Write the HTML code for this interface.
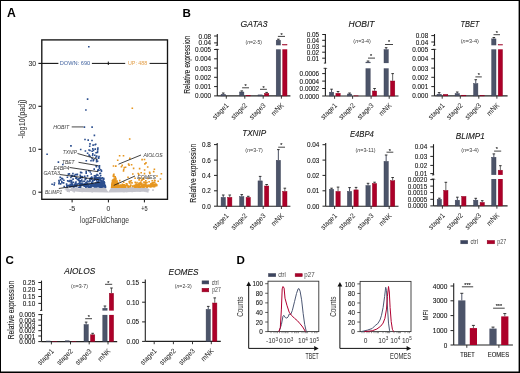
<!DOCTYPE html>
<html><head><meta charset="utf-8"><style>
html,body{margin:0;padding:0;background:#fff;}
body{width:520px;height:373px;overflow:hidden;position:relative;font-family:"Liberation Sans", sans-serif;}
svg{display:block;position:absolute;left:0;top:0;will-change:transform;}
.frame{position:absolute;left:0;top:0;width:518px;height:371px;border:1px solid #000;}
</style></head><body>
<svg width="520" height="373" viewBox="0 0 520 373" font-family='"Liberation Sans", sans-serif'>
<rect x="0" y="0" width="520" height="373" fill="#fff"/>
<text x="7.0" y="16.7" font-size="12.2" text-anchor="start" fill="#000" font-weight="bold">A</text>
<text x="182.6" y="17.0" font-size="11.6" text-anchor="start" fill="#000" font-weight="bold">B</text>
<text x="5.4" y="264.2" font-size="11.6" text-anchor="start" fill="#000" font-weight="bold">C</text>
<text x="236.4" y="264.2" font-size="11.6" text-anchor="start" fill="#000" font-weight="bold">D</text>
<polygon points="64,189.6 80,188.6 95,187.8 105.2,187.4 108.3,192.0 111.4,187.3 125,187.2 140,187.4 148,188.2 150,190 147,191.6 125,192.3 108,192.4 80,192.0 66,190.6" fill="#c3c3cb"/>
<path d="M102.3 189.0h1.6v1.6h-1.6zM141.0 188.6h1.6v1.6h-1.6zM80.3 188.8h1.6v1.6h-1.6zM116.9 190.0h1.6v1.6h-1.6zM72.9 187.9h1.6v1.6h-1.6zM72.6 190.0h1.6v1.6h-1.6zM122.1 186.9h1.6v1.6h-1.6zM145.7 190.7h1.6v1.6h-1.6zM118.8 189.2h1.6v1.6h-1.6zM78.1 186.8h1.6v1.6h-1.6zM80.8 187.7h1.6v1.6h-1.6zM67.7 188.6h1.6v1.6h-1.6zM101.3 190.2h1.6v1.6h-1.6zM102.7 187.8h1.6v1.6h-1.6zM147.0 190.8h1.6v1.6h-1.6zM134.1 189.6h1.6v1.6h-1.6zM91.1 187.6h1.6v1.6h-1.6zM88.9 187.0h1.6v1.6h-1.6zM128.0 188.3h1.6v1.6h-1.6zM134.6 188.3h1.6v1.6h-1.6zM143.8 190.2h1.6v1.6h-1.6zM65.2 187.6h1.6v1.6h-1.6zM139.8 188.6h1.6v1.6h-1.6zM145.6 188.3h1.6v1.6h-1.6zM71.2 189.3h1.6v1.6h-1.6zM129.0 187.8h1.6v1.6h-1.6zM72.3 188.1h1.6v1.6h-1.6zM144.3 189.8h1.6v1.6h-1.6zM74.9 187.7h1.6v1.6h-1.6zM73.5 186.9h1.6v1.6h-1.6zM130.6 187.4h1.6v1.6h-1.6zM111.1 188.5h1.6v1.6h-1.6zM80.8 189.7h1.6v1.6h-1.6zM75.9 189.3h1.6v1.6h-1.6zM74.8 188.4h1.6v1.6h-1.6zM82.7 187.8h1.6v1.6h-1.6zM144.8 190.0h1.6v1.6h-1.6zM90.1 190.3h1.6v1.6h-1.6zM82.5 188.3h1.6v1.6h-1.6zM135.3 189.3h1.6v1.6h-1.6zM73.4 190.8h1.6v1.6h-1.6zM82.7 187.8h1.6v1.6h-1.6zM128.6 188.0h1.6v1.6h-1.6zM89.5 187.0h1.6v1.6h-1.6zM72.6 189.1h1.6v1.6h-1.6zM85.1 189.2h1.6v1.6h-1.6zM95.7 188.6h1.6v1.6h-1.6zM143.8 188.7h1.6v1.6h-1.6zM112.3 190.3h1.6v1.6h-1.6zM80.2 187.3h1.6v1.6h-1.6zM139.7 190.1h1.6v1.6h-1.6zM85.7 187.5h1.6v1.6h-1.6zM125.8 190.6h1.6v1.6h-1.6zM81.3 190.6h1.6v1.6h-1.6zM137.5 189.2h1.6v1.6h-1.6zM99.8 187.1h1.6v1.6h-1.6zM68.4 190.6h1.6v1.6h-1.6zM84.7 189.6h1.6v1.6h-1.6zM86.3 190.1h1.6v1.6h-1.6zM114.1 187.9h1.6v1.6h-1.6zM79.6 189.7h1.6v1.6h-1.6zM70.8 187.6h1.6v1.6h-1.6zM111.1 190.2h1.6v1.6h-1.6zM115.6 187.8h1.6v1.6h-1.6zM140.4 187.5h1.6v1.6h-1.6zM66.6 187.8h1.6v1.6h-1.6zM101.7 186.9h1.6v1.6h-1.6zM79.7 188.2h1.6v1.6h-1.6zM112.1 187.2h1.6v1.6h-1.6zM94.9 190.4h1.6v1.6h-1.6zM145.6 189.4h1.6v1.6h-1.6zM121.9 189.1h1.6v1.6h-1.6zM76.7 186.8h1.6v1.6h-1.6zM66.7 190.4h1.6v1.6h-1.6zM122.7 190.6h1.6v1.6h-1.6zM66.9 189.3h1.6v1.6h-1.6zM104.7 189.7h1.6v1.6h-1.6zM91.4 190.8h1.6v1.6h-1.6zM71.4 188.9h1.6v1.6h-1.6zM125.6 190.4h1.6v1.6h-1.6zM125.6 189.6h1.6v1.6h-1.6zM130.2 190.5h1.6v1.6h-1.6zM94.1 189.5h1.6v1.6h-1.6zM139.1 190.3h1.6v1.6h-1.6zM99.4 189.9h1.6v1.6h-1.6zM136.0 189.0h1.6v1.6h-1.6zM116.4 188.3h1.6v1.6h-1.6zM113.0 189.2h1.6v1.6h-1.6zM71.8 189.3h1.6v1.6h-1.6zM146.7 190.3h1.6v1.6h-1.6zM124.9 188.3h1.6v1.6h-1.6zM125.5 189.1h1.6v1.6h-1.6zM101.3 190.1h1.6v1.6h-1.6zM72.1 189.8h1.6v1.6h-1.6zM67.6 189.2h1.6v1.6h-1.6zM104.6 187.6h1.6v1.6h-1.6zM122.5 188.7h1.6v1.6h-1.6zM115.6 190.5h1.6v1.6h-1.6zM86.2 186.7h1.6v1.6h-1.6zM89.9 189.5h1.6v1.6h-1.6zM81.8 187.4h1.6v1.6h-1.6zM139.5 189.4h1.6v1.6h-1.6zM101.4 190.4h1.6v1.6h-1.6zM92.0 189.4h1.6v1.6h-1.6zM81.5 188.5h1.6v1.6h-1.6zM131.3 190.4h1.6v1.6h-1.6zM137.4 188.3h1.6v1.6h-1.6zM113.0 188.0h1.6v1.6h-1.6zM76.4 188.7h1.6v1.6h-1.6zM133.8 190.2h1.6v1.6h-1.6zM123.5 190.6h1.6v1.6h-1.6zM87.9 187.4h1.6v1.6h-1.6zM102.2 187.8h1.6v1.6h-1.6zM82.8 188.4h1.6v1.6h-1.6zM116.5 188.7h1.6v1.6h-1.6zM91.1 190.1h1.6v1.6h-1.6zM145.7 188.6h1.6v1.6h-1.6zM71.3 186.8h1.6v1.6h-1.6zM136.8 186.9h1.6v1.6h-1.6zM123.3 189.0h1.6v1.6h-1.6zM90.5 189.9h1.6v1.6h-1.6zM66.8 187.3h1.6v1.6h-1.6zM102.5 186.8h1.6v1.6h-1.6zM133.2 187.7h1.6v1.6h-1.6zM76.8 186.9h1.6v1.6h-1.6zM116.8 188.5h1.6v1.6h-1.6zM116.9 189.4h1.6v1.6h-1.6zM131.4 190.6h1.6v1.6h-1.6zM121.3 187.5h1.6v1.6h-1.6zM104.2 187.4h1.6v1.6h-1.6zM66.1 188.6h1.6v1.6h-1.6zM123.8 187.4h1.6v1.6h-1.6zM87.5 188.1h1.6v1.6h-1.6zM122.4 188.8h1.6v1.6h-1.6zM115.6 189.8h1.6v1.6h-1.6zM97.5 189.9h1.6v1.6h-1.6zM139.5 187.1h1.6v1.6h-1.6zM141.7 189.7h1.6v1.6h-1.6zM75.9 188.6h1.6v1.6h-1.6zM116.5 190.4h1.6v1.6h-1.6zM96.1 189.0h1.6v1.6h-1.6zM137.3 190.0h1.6v1.6h-1.6zM142.6 188.6h1.6v1.6h-1.6zM118.6 187.5h1.6v1.6h-1.6zM124.4 190.1h1.6v1.6h-1.6zM117.8 189.6h1.6v1.6h-1.6zM82.7 190.4h1.6v1.6h-1.6zM145.6 190.7h1.6v1.6h-1.6zM91.5 190.4h1.6v1.6h-1.6zM135.4 188.1h1.6v1.6h-1.6zM72.0 188.5h1.6v1.6h-1.6zM110.3 189.8h1.6v1.6h-1.6zM131.5 187.0h1.6v1.6h-1.6zM130.8 187.4h1.6v1.6h-1.6zM152.2 189.3h1.6v1.6h-1.6z" fill="#c3c3cb"/>
<path d="M98.2 185.7h1.6v1.6h-1.6zM81.1 183.9h1.6v1.6h-1.6zM88.4 183.5h1.6v1.6h-1.6zM85.0 184.2h1.6v1.6h-1.6zM74.7 183.4h1.6v1.6h-1.6zM67.7 184.8h1.6v1.6h-1.6zM91.7 184.2h1.6v1.6h-1.6zM85.8 184.4h1.6v1.6h-1.6zM76.4 183.3h1.6v1.6h-1.6zM97.5 184.4h1.6v1.6h-1.6zM99.1 184.9h1.6v1.6h-1.6zM68.8 186.0h1.6v1.6h-1.6zM74.7 185.3h1.6v1.6h-1.6zM100.0 183.0h1.6v1.6h-1.6zM84.7 185.6h1.6v1.6h-1.6zM94.7 184.5h1.6v1.6h-1.6zM99.2 183.5h1.6v1.6h-1.6zM84.7 184.0h1.6v1.6h-1.6zM86.3 185.1h1.6v1.6h-1.6zM94.6 182.2h1.6v1.6h-1.6zM90.4 186.0h1.6v1.6h-1.6zM104.0 185.4h1.6v1.6h-1.6zM79.9 186.0h1.6v1.6h-1.6zM90.7 183.5h1.6v1.6h-1.6zM90.3 185.8h1.6v1.6h-1.6zM70.8 183.3h1.6v1.6h-1.6zM72.0 183.9h1.6v1.6h-1.6zM84.7 184.7h1.6v1.6h-1.6zM101.7 184.2h1.6v1.6h-1.6zM101.9 185.6h1.6v1.6h-1.6zM78.9 183.6h1.6v1.6h-1.6zM93.2 184.6h1.6v1.6h-1.6zM75.7 183.7h1.6v1.6h-1.6zM75.7 183.8h1.6v1.6h-1.6zM89.4 184.7h1.6v1.6h-1.6zM104.2 184.6h1.6v1.6h-1.6zM100.0 182.1h1.6v1.6h-1.6zM91.3 184.0h1.6v1.6h-1.6zM68.4 184.4h1.6v1.6h-1.6zM79.3 186.4h1.6v1.6h-1.6zM99.2 184.5h1.6v1.6h-1.6zM72.8 186.1h1.6v1.6h-1.6zM80.8 184.5h1.6v1.6h-1.6zM103.7 182.0h1.6v1.6h-1.6zM91.4 184.3h1.6v1.6h-1.6zM79.3 184.8h1.6v1.6h-1.6zM94.9 185.1h1.6v1.6h-1.6zM99.2 183.1h1.6v1.6h-1.6zM81.2 183.1h1.6v1.6h-1.6zM73.8 184.8h1.6v1.6h-1.6zM85.1 184.5h1.6v1.6h-1.6zM90.3 184.5h1.6v1.6h-1.6zM92.9 183.5h1.6v1.6h-1.6zM87.0 184.7h1.6v1.6h-1.6zM78.0 183.1h1.6v1.6h-1.6zM69.2 184.4h1.6v1.6h-1.6zM80.9 184.3h1.6v1.6h-1.6zM86.4 185.6h1.6v1.6h-1.6zM70.7 183.6h1.6v1.6h-1.6zM79.5 186.0h1.6v1.6h-1.6zM102.4 183.2h1.6v1.6h-1.6zM95.2 184.2h1.6v1.6h-1.6zM74.0 183.6h1.6v1.6h-1.6zM93.5 185.4h1.6v1.6h-1.6zM79.3 185.0h1.6v1.6h-1.6zM98.4 183.9h1.6v1.6h-1.6zM98.3 184.7h1.6v1.6h-1.6zM94.7 186.0h1.6v1.6h-1.6zM87.5 185.1h1.6v1.6h-1.6zM98.8 184.9h1.6v1.6h-1.6zM100.3 185.7h1.6v1.6h-1.6zM90.5 185.9h1.6v1.6h-1.6zM84.3 182.9h1.6v1.6h-1.6zM71.8 183.6h1.6v1.6h-1.6zM86.6 184.9h1.6v1.6h-1.6zM97.3 183.8h1.6v1.6h-1.6zM91.2 184.0h1.6v1.6h-1.6zM69.5 185.5h1.6v1.6h-1.6zM66.3 184.7h1.6v1.6h-1.6zM102.5 186.0h1.6v1.6h-1.6zM103.5 183.3h1.6v1.6h-1.6zM73.3 185.6h1.6v1.6h-1.6zM80.3 183.6h1.6v1.6h-1.6zM71.9 184.2h1.6v1.6h-1.6zM84.2 183.7h1.6v1.6h-1.6zM91.9 183.0h1.6v1.6h-1.6zM87.5 183.8h1.6v1.6h-1.6zM82.7 184.8h1.6v1.6h-1.6zM81.3 182.8h1.6v1.6h-1.6zM96.5 184.4h1.6v1.6h-1.6zM101.4 184.9h1.6v1.6h-1.6zM69.4 185.8h1.6v1.6h-1.6zM69.6 183.6h1.6v1.6h-1.6zM89.1 183.5h1.6v1.6h-1.6zM100.5 185.0h1.6v1.6h-1.6zM85.1 184.2h1.6v1.6h-1.6zM71.0 185.3h1.6v1.6h-1.6zM92.4 185.4h1.6v1.6h-1.6zM65.9 185.2h1.6v1.6h-1.6zM97.3 182.1h1.6v1.6h-1.6zM80.5 184.2h1.6v1.6h-1.6zM83.8 185.4h1.6v1.6h-1.6zM99.3 183.9h1.6v1.6h-1.6zM104.0 185.0h1.6v1.6h-1.6zM74.9 184.4h1.6v1.6h-1.6zM100.6 182.6h1.6v1.6h-1.6zM100.8 184.9h1.6v1.6h-1.6zM93.7 183.4h1.6v1.6h-1.6zM75.6 183.2h1.6v1.6h-1.6zM94.8 184.3h1.6v1.6h-1.6zM63.4 185.8h1.6v1.6h-1.6zM96.6 184.0h1.6v1.6h-1.6zM87.6 183.7h1.6v1.6h-1.6zM76.0 185.2h1.6v1.6h-1.6zM88.6 186.0h1.6v1.6h-1.6zM101.5 184.4h1.6v1.6h-1.6zM87.4 185.9h1.6v1.6h-1.6zM74.7 184.9h1.6v1.6h-1.6zM83.4 183.3h1.6v1.6h-1.6zM89.9 186.4h1.6v1.6h-1.6zM70.9 183.9h1.6v1.6h-1.6zM104.4 184.7h1.6v1.6h-1.6zM99.8 184.6h1.6v1.6h-1.6zM81.4 184.1h1.6v1.6h-1.6zM68.5 184.7h1.6v1.6h-1.6zM98.5 183.2h1.6v1.6h-1.6zM101.6 182.1h1.6v1.6h-1.6zM103.0 185.2h1.6v1.6h-1.6zM96.8 182.3h1.6v1.6h-1.6zM99.3 182.0h1.6v1.6h-1.6zM75.4 184.5h1.6v1.6h-1.6zM79.7 182.9h1.6v1.6h-1.6zM103.4 182.5h1.6v1.6h-1.6zM92.9 183.9h1.6v1.6h-1.6zM103.9 185.5h1.6v1.6h-1.6zM90.8 183.3h1.6v1.6h-1.6zM78.1 186.4h1.6v1.6h-1.6zM94.6 184.7h1.6v1.6h-1.6zM92.0 185.2h1.6v1.6h-1.6zM88.8 186.3h1.6v1.6h-1.6zM80.3 184.2h1.6v1.6h-1.6zM86.3 183.7h1.6v1.6h-1.6zM97.5 182.0h1.6v1.6h-1.6zM100.5 184.3h1.6v1.6h-1.6zM91.8 184.1h1.6v1.6h-1.6zM94.0 186.2h1.6v1.6h-1.6zM91.4 183.9h1.6v1.6h-1.6zM95.4 186.1h1.6v1.6h-1.6zM75.8 185.0h1.6v1.6h-1.6zM69.7 185.6h1.6v1.6h-1.6zM93.6 186.1h1.6v1.6h-1.6zM99.6 182.5h1.6v1.6h-1.6zM96.8 183.1h1.6v1.6h-1.6zM102.3 182.7h1.6v1.6h-1.6zM66.3 186.5h1.6v1.6h-1.6zM87.9 186.2h1.6v1.6h-1.6zM85.1 186.3h1.6v1.6h-1.6zM71.8 184.8h1.6v1.6h-1.6zM95.6 182.4h1.6v1.6h-1.6zM78.3 182.9h1.6v1.6h-1.6zM92.1 182.7h1.6v1.6h-1.6zM85.8 183.0h1.6v1.6h-1.6zM96.8 186.0h1.6v1.6h-1.6zM75.3 185.7h1.6v1.6h-1.6zM74.7 183.8h1.6v1.6h-1.6zM75.2 184.4h1.6v1.6h-1.6zM69.8 184.3h1.6v1.6h-1.6zM99.6 182.0h1.6v1.6h-1.6zM88.0 186.3h1.6v1.6h-1.6zM99.1 182.8h1.6v1.6h-1.6zM95.1 184.6h1.6v1.6h-1.6zM102.2 185.0h1.6v1.6h-1.6zM97.2 181.8h1.6v1.6h-1.6zM96.2 177.1h1.6v1.6h-1.6zM104.7 186.4h1.6v1.6h-1.6zM99.1 179.1h1.6v1.6h-1.6zM98.3 176.6h1.6v1.6h-1.6zM99.5 185.5h1.6v1.6h-1.6zM100.1 180.5h1.6v1.6h-1.6zM98.0 180.4h1.6v1.6h-1.6zM102.5 182.1h1.6v1.6h-1.6zM99.6 177.8h1.6v1.6h-1.6zM101.5 182.1h1.6v1.6h-1.6zM104.3 185.5h1.6v1.6h-1.6zM102.5 185.6h1.6v1.6h-1.6zM100.6 185.0h1.6v1.6h-1.6zM98.9 178.8h1.6v1.6h-1.6zM102.5 178.6h1.6v1.6h-1.6zM96.7 182.5h1.6v1.6h-1.6zM96.5 181.4h1.6v1.6h-1.6zM99.5 186.4h1.6v1.6h-1.6zM100.5 179.6h1.6v1.6h-1.6zM100.3 177.4h1.6v1.6h-1.6zM96.1 185.7h1.6v1.6h-1.6zM94.4 182.4h1.6v1.6h-1.6zM98.8 183.0h1.6v1.6h-1.6zM97.0 178.5h1.6v1.6h-1.6zM95.0 176.9h1.6v1.6h-1.6zM100.2 181.8h1.6v1.6h-1.6zM102.6 185.0h1.6v1.6h-1.6zM95.8 184.4h1.6v1.6h-1.6zM94.6 184.3h1.6v1.6h-1.6zM100.8 182.0h1.6v1.6h-1.6zM97.0 181.3h1.6v1.6h-1.6zM95.1 178.2h1.6v1.6h-1.6zM96.0 184.9h1.6v1.6h-1.6zM95.9 179.9h1.6v1.6h-1.6zM103.0 178.6h1.6v1.6h-1.6zM94.8 183.3h1.6v1.6h-1.6zM98.1 185.2h1.6v1.6h-1.6zM104.5 186.4h1.6v1.6h-1.6zM99.4 179.0h1.6v1.6h-1.6zM104.7 185.8h1.6v1.6h-1.6zM99.0 179.2h1.6v1.6h-1.6zM94.6 185.0h1.6v1.6h-1.6zM103.6 185.8h1.6v1.6h-1.6zM98.4 184.5h1.6v1.6h-1.6zM98.7 186.2h1.6v1.6h-1.6zM94.6 175.6h1.6v1.6h-1.6zM102.3 179.4h1.6v1.6h-1.6zM96.6 184.9h1.6v1.6h-1.6zM100.0 185.0h1.6v1.6h-1.6zM99.1 176.5h1.6v1.6h-1.6zM98.1 184.1h1.6v1.6h-1.6zM94.6 183.4h1.6v1.6h-1.6zM101.1 186.3h1.6v1.6h-1.6zM97.8 179.9h1.6v1.6h-1.6zM103.4 181.2h1.6v1.6h-1.6zM103.6 182.8h1.6v1.6h-1.6zM98.4 177.8h1.6v1.6h-1.6zM95.2 178.6h1.6v1.6h-1.6zM92.0 181.0h1.6v1.6h-1.6zM85.7 177.7h1.6v1.6h-1.6zM78.0 179.5h1.6v1.6h-1.6zM80.2 171.8h1.6v1.6h-1.6zM97.4 181.6h1.6v1.6h-1.6zM83.4 183.9h1.6v1.6h-1.6zM99.9 169.0h1.6v1.6h-1.6zM81.9 183.4h1.6v1.6h-1.6zM102.4 181.5h1.6v1.6h-1.6zM96.3 177.2h1.6v1.6h-1.6zM83.1 180.6h1.6v1.6h-1.6zM101.6 180.6h1.6v1.6h-1.6zM84.4 178.7h1.6v1.6h-1.6zM93.0 183.6h1.6v1.6h-1.6zM59.4 176.6h1.6v1.6h-1.6zM99.7 172.4h1.6v1.6h-1.6zM81.2 181.0h1.6v1.6h-1.6zM94.1 177.9h1.6v1.6h-1.6zM72.3 178.3h1.6v1.6h-1.6zM84.5 177.4h1.6v1.6h-1.6zM86.7 182.8h1.6v1.6h-1.6zM97.1 174.5h1.6v1.6h-1.6zM88.7 183.9h1.6v1.6h-1.6zM101.5 177.1h1.6v1.6h-1.6zM63.1 179.5h1.6v1.6h-1.6zM103.0 178.0h1.6v1.6h-1.6zM93.5 176.7h1.6v1.6h-1.6zM95.3 174.8h1.6v1.6h-1.6zM94.4 177.5h1.6v1.6h-1.6zM66.9 180.1h1.6v1.6h-1.6zM81.0 179.3h1.6v1.6h-1.6zM70.3 181.5h1.6v1.6h-1.6zM53.7 182.2h1.6v1.6h-1.6zM86.7 175.1h1.6v1.6h-1.6zM70.5 180.4h1.6v1.6h-1.6zM90.4 173.2h1.6v1.6h-1.6zM75.9 173.8h1.6v1.6h-1.6zM74.9 177.2h1.6v1.6h-1.6zM75.4 177.5h1.6v1.6h-1.6zM86.0 181.6h1.6v1.6h-1.6zM102.2 183.0h1.6v1.6h-1.6zM91.5 177.2h1.6v1.6h-1.6zM69.2 179.8h1.6v1.6h-1.6zM88.8 179.3h1.6v1.6h-1.6zM70.5 174.7h1.6v1.6h-1.6zM83.9 175.4h1.6v1.6h-1.6zM102.8 177.5h1.6v1.6h-1.6zM100.4 184.0h1.6v1.6h-1.6zM71.2 182.6h1.6v1.6h-1.6zM90.3 178.1h1.6v1.6h-1.6zM59.8 183.1h1.6v1.6h-1.6zM93.5 179.3h1.6v1.6h-1.6zM100.3 177.4h1.6v1.6h-1.6zM70.8 179.7h1.6v1.6h-1.6zM85.1 182.1h1.6v1.6h-1.6zM61.1 181.8h1.6v1.6h-1.6zM93.7 183.9h1.6v1.6h-1.6zM86.6 180.2h1.6v1.6h-1.6zM83.7 180.5h1.6v1.6h-1.6zM68.6 173.1h1.6v1.6h-1.6zM77.6 178.9h1.6v1.6h-1.6zM61.8 178.1h1.6v1.6h-1.6zM67.6 173.3h1.6v1.6h-1.6zM79.0 181.9h1.6v1.6h-1.6zM79.7 183.2h1.6v1.6h-1.6zM90.9 176.3h1.6v1.6h-1.6zM53.4 184.1h1.6v1.6h-1.6zM79.4 174.5h1.6v1.6h-1.6zM73.4 174.9h1.6v1.6h-1.6zM80.5 183.9h1.6v1.6h-1.6zM93.8 178.3h1.6v1.6h-1.6zM96.2 173.7h1.6v1.6h-1.6zM68.4 180.6h1.6v1.6h-1.6zM62.8 182.1h1.6v1.6h-1.6zM90.8 181.5h1.6v1.6h-1.6zM76.5 178.7h1.6v1.6h-1.6zM58.4 181.2h1.6v1.6h-1.6zM98.2 169.4h1.6v1.6h-1.6zM98.7 167.5h1.6v1.6h-1.6zM96.0 177.5h1.6v1.6h-1.6zM99.0 172.7h1.6v1.6h-1.6zM58.1 182.8h1.6v1.6h-1.6zM88.2 181.0h1.6v1.6h-1.6zM79.8 175.8h1.6v1.6h-1.6zM100.6 169.7h1.6v1.6h-1.6zM89.4 177.8h1.6v1.6h-1.6zM81.3 176.4h1.6v1.6h-1.6zM84.9 177.8h1.6v1.6h-1.6zM74.8 182.3h1.6v1.6h-1.6zM79.4 180.1h1.6v1.6h-1.6zM97.0 169.8h1.6v1.6h-1.6zM72.6 181.4h1.6v1.6h-1.6zM85.4 172.3h1.6v1.6h-1.6zM75.3 183.4h1.6v1.6h-1.6zM81.2 176.9h1.6v1.6h-1.6zM99.9 174.7h1.6v1.6h-1.6zM100.7 170.3h1.6v1.6h-1.6zM97.4 169.1h1.6v1.6h-1.6zM102.5 178.1h1.6v1.6h-1.6zM103.1 181.0h1.6v1.6h-1.6zM80.9 172.0h1.6v1.6h-1.6zM80.9 175.7h1.6v1.6h-1.6zM79.5 184.0h1.6v1.6h-1.6zM78.6 180.6h1.6v1.6h-1.6zM99.7 182.0h1.6v1.6h-1.6zM101.7 182.2h1.6v1.6h-1.6zM61.0 177.5h1.6v1.6h-1.6zM98.8 177.3h1.6v1.6h-1.6zM76.6 173.8h1.6v1.6h-1.6zM85.4 170.7h1.6v1.6h-1.6zM93.6 175.0h1.6v1.6h-1.6zM89.5 171.2h1.6v1.6h-1.6zM77.8 179.2h1.6v1.6h-1.6zM96.2 183.1h1.6v1.6h-1.6zM88.0 170.0h1.6v1.6h-1.6zM75.2 181.2h1.6v1.6h-1.6zM70.8 181.3h1.6v1.6h-1.6zM74.5 173.8h1.6v1.6h-1.6zM73.7 175.4h1.6v1.6h-1.6zM79.8 171.6h1.6v1.6h-1.6zM61.0 180.7h1.6v1.6h-1.6zM81.7 175.9h1.6v1.6h-1.6zM93.4 168.3h1.6v1.6h-1.6zM70.1 176.7h1.6v1.6h-1.6zM90.8 178.5h1.6v1.6h-1.6zM65.8 183.3h1.6v1.6h-1.6zM70.8 175.6h1.6v1.6h-1.6zM71.5 175.1h1.6v1.6h-1.6zM59.8 179.1h1.6v1.6h-1.6zM79.4 177.5h1.6v1.6h-1.6zM91.5 182.8h1.6v1.6h-1.6zM79.4 180.9h1.6v1.6h-1.6zM95.8 176.8h1.6v1.6h-1.6zM78.0 182.8h1.6v1.6h-1.6zM72.1 172.8h1.6v1.6h-1.6zM66.6 176.5h1.6v1.6h-1.6zM101.4 182.3h1.6v1.6h-1.6zM76.5 173.5h1.6v1.6h-1.6zM89.5 180.2h1.6v1.6h-1.6zM78.1 177.9h1.6v1.6h-1.6zM75.9 177.1h1.6v1.6h-1.6zM91.8 179.5h1.6v1.6h-1.6zM97.7 177.0h1.6v1.6h-1.6zM90.0 177.3h1.6v1.6h-1.6zM97.1 147.2h1.6v1.6h-1.6zM95.1 156.5h1.6v1.6h-1.6zM95.8 160.8h1.6v1.6h-1.6zM94.5 148.2h1.6v1.6h-1.6zM96.7 151.7h1.6v1.6h-1.6zM91.3 157.9h1.6v1.6h-1.6zM98.5 166.8h1.6v1.6h-1.6zM89.2 155.5h1.6v1.6h-1.6zM95.7 166.0h1.6v1.6h-1.6zM91.8 154.7h1.6v1.6h-1.6zM91.3 150.5h1.6v1.6h-1.6zM89.2 149.7h1.6v1.6h-1.6zM97.9 157.3h1.6v1.6h-1.6zM92.0 153.1h1.6v1.6h-1.6zM94.3 143.9h1.6v1.6h-1.6zM92.3 144.3h1.6v1.6h-1.6zM95.3 165.2h1.6v1.6h-1.6zM92.4 159.9h1.6v1.6h-1.6zM92.0 148.1h1.6v1.6h-1.6zM97.0 148.6h1.6v1.6h-1.6zM88.9 145.4h1.6v1.6h-1.6zM98.7 165.1h1.6v1.6h-1.6zM88.3 154.3h1.6v1.6h-1.6zM89.2 143.1h1.6v1.6h-1.6zM88.2 149.2h1.6v1.6h-1.6zM95.3 152.0h1.6v1.6h-1.6zM98.2 155.7h1.6v1.6h-1.6zM95.8 159.5h1.6v1.6h-1.6zM98.3 165.3h1.6v1.6h-1.6zM97.7 157.1h1.6v1.6h-1.6zM88.0 46.0h1.6v1.6h-1.6zM86.8 98.3h1.6v1.6h-1.6zM85.1 109.2h1.6v1.6h-1.6zM83.6 126.3h1.6v1.6h-1.6zM91.3 126.3h1.6v1.6h-1.6zM93.6 134.6h1.6v1.6h-1.6zM84.2 138.7h1.6v1.6h-1.6zM87.4 139.3h1.6v1.6h-1.6zM91.2 139.7h1.6v1.6h-1.6zM94.9 143.4h1.6v1.6h-1.6zM70.1 145.0h1.6v1.6h-1.6zM79.9 148.7h1.6v1.6h-1.6zM84.6 150.2h1.6v1.6h-1.6zM86.8 152.5h1.6v1.6h-1.6zM92.7 149.7h1.6v1.6h-1.6zM94.4 148.3h1.6v1.6h-1.6zM96.8 150.6h1.6v1.6h-1.6zM95.9 155.3h1.6v1.6h-1.6zM94.0 154.4h1.6v1.6h-1.6zM85.5 160.0h1.6v1.6h-1.6zM90.2 160.0h1.6v1.6h-1.6zM93.0 159.0h1.6v1.6h-1.6zM95.9 159.0h1.6v1.6h-1.6zM96.8 160.4h1.6v1.6h-1.6zM62.0 163.7h1.6v1.6h-1.6zM46.3 153.5h1.6v1.6h-1.6zM51.3 183.4h1.6v1.6h-1.6zM57.6 161.3h1.6v1.6h-1.6zM58.1 179.7h1.6v1.6h-1.6zM70.2 145.1h1.6v1.6h-1.6z" fill="#2b4e8e"/>
<path d="M117.1 182.3h1.6v1.6h-1.6zM114.6 184.7h1.6v1.6h-1.6zM113.3 182.9h1.6v1.6h-1.6zM112.5 182.1h1.6v1.6h-1.6zM114.7 181.5h1.6v1.6h-1.6zM111.8 183.8h1.6v1.6h-1.6zM112.8 181.3h1.6v1.6h-1.6zM113.7 178.5h1.6v1.6h-1.6zM111.1 184.1h1.6v1.6h-1.6zM116.6 181.9h1.6v1.6h-1.6zM114.3 185.7h1.6v1.6h-1.6zM115.4 186.2h1.6v1.6h-1.6zM112.6 186.4h1.6v1.6h-1.6zM112.8 181.6h1.6v1.6h-1.6zM112.4 181.2h1.6v1.6h-1.6zM117.2 186.4h1.6v1.6h-1.6zM111.3 184.1h1.6v1.6h-1.6zM113.5 182.9h1.6v1.6h-1.6zM114.2 185.9h1.6v1.6h-1.6zM110.8 186.5h1.6v1.6h-1.6zM113.1 185.0h1.6v1.6h-1.6zM113.6 180.8h1.6v1.6h-1.6zM112.1 180.1h1.6v1.6h-1.6zM112.0 183.8h1.6v1.6h-1.6zM116.1 181.3h1.6v1.6h-1.6zM116.3 180.3h1.6v1.6h-1.6zM112.8 185.1h1.6v1.6h-1.6zM114.7 185.2h1.6v1.6h-1.6zM112.5 180.5h1.6v1.6h-1.6zM113.2 182.3h1.6v1.6h-1.6zM111.9 184.4h1.6v1.6h-1.6zM114.7 185.5h1.6v1.6h-1.6zM114.5 177.2h1.6v1.6h-1.6zM112.5 175.5h1.6v1.6h-1.6zM113.1 185.4h1.6v1.6h-1.6zM112.7 174.2h1.6v1.6h-1.6zM115.7 185.4h1.6v1.6h-1.6zM115.4 181.9h1.6v1.6h-1.6zM115.9 186.4h1.6v1.6h-1.6zM113.1 175.9h1.6v1.6h-1.6zM112.8 183.9h1.6v1.6h-1.6zM112.0 181.1h1.6v1.6h-1.6zM112.4 179.2h1.6v1.6h-1.6zM114.3 181.6h1.6v1.6h-1.6zM114.0 185.0h1.6v1.6h-1.6zM112.6 175.3h1.6v1.6h-1.6zM112.7 185.0h1.6v1.6h-1.6zM111.1 183.6h1.6v1.6h-1.6zM111.7 180.7h1.6v1.6h-1.6zM114.5 184.1h1.6v1.6h-1.6zM111.4 185.9h1.6v1.6h-1.6zM111.6 180.1h1.6v1.6h-1.6zM114.3 176.0h1.6v1.6h-1.6zM114.1 186.4h1.6v1.6h-1.6zM114.4 181.3h1.6v1.6h-1.6zM113.6 186.2h1.6v1.6h-1.6zM113.3 183.1h1.6v1.6h-1.6zM112.7 186.1h1.6v1.6h-1.6zM114.8 177.3h1.6v1.6h-1.6zM112.8 175.2h1.6v1.6h-1.6zM112.1 184.1h1.6v1.6h-1.6zM113.4 178.2h1.6v1.6h-1.6zM112.4 182.3h1.6v1.6h-1.6zM111.6 184.1h1.6v1.6h-1.6zM112.8 179.5h1.6v1.6h-1.6zM112.0 184.7h1.6v1.6h-1.6zM114.4 176.2h1.6v1.6h-1.6zM113.3 179.2h1.6v1.6h-1.6zM112.6 185.9h1.6v1.6h-1.6zM114.7 177.5h1.6v1.6h-1.6zM111.0 185.7h1.6v1.6h-1.6zM113.1 173.5h1.6v1.6h-1.6zM113.7 179.9h1.6v1.6h-1.6zM114.7 184.6h1.6v1.6h-1.6zM116.5 183.5h1.6v1.6h-1.6zM112.5 186.2h1.6v1.6h-1.6zM112.8 182.1h1.6v1.6h-1.6zM117.0 182.7h1.6v1.6h-1.6zM115.9 185.4h1.6v1.6h-1.6zM116.9 184.2h1.6v1.6h-1.6zM114.0 184.3h1.6v1.6h-1.6zM114.9 179.0h1.6v1.6h-1.6zM112.2 184.6h1.6v1.6h-1.6zM112.4 182.2h1.6v1.6h-1.6zM111.4 183.2h1.6v1.6h-1.6zM111.9 186.5h1.6v1.6h-1.6zM111.4 186.0h1.6v1.6h-1.6zM114.4 184.9h1.6v1.6h-1.6zM113.3 180.0h1.6v1.6h-1.6zM113.4 183.7h1.6v1.6h-1.6zM112.6 181.3h1.6v1.6h-1.6zM117.4 186.5h1.6v1.6h-1.6zM113.4 185.6h1.6v1.6h-1.6zM112.7 178.7h1.6v1.6h-1.6zM113.8 182.0h1.6v1.6h-1.6zM115.8 183.7h1.6v1.6h-1.6zM113.3 182.1h1.6v1.6h-1.6zM117.7 186.5h1.6v1.6h-1.6zM111.2 186.0h1.6v1.6h-1.6zM111.8 179.8h1.6v1.6h-1.6zM111.4 183.5h1.6v1.6h-1.6zM114.2 185.6h1.6v1.6h-1.6zM115.1 185.5h1.6v1.6h-1.6zM113.0 186.4h1.6v1.6h-1.6zM112.5 185.5h1.6v1.6h-1.6zM112.6 186.4h1.6v1.6h-1.6zM113.2 185.1h1.6v1.6h-1.6zM115.2 178.2h1.6v1.6h-1.6zM111.0 184.1h1.6v1.6h-1.6zM113.3 179.8h1.6v1.6h-1.6zM113.6 182.6h1.6v1.6h-1.6zM111.7 183.2h1.6v1.6h-1.6zM113.2 175.3h1.6v1.6h-1.6zM114.0 179.8h1.6v1.6h-1.6zM111.8 183.1h1.6v1.6h-1.6zM112.0 179.6h1.6v1.6h-1.6zM117.5 186.0h1.6v1.6h-1.6zM112.5 179.4h1.6v1.6h-1.6zM111.9 183.2h1.6v1.6h-1.6zM115.8 186.0h1.6v1.6h-1.6zM116.4 183.9h1.6v1.6h-1.6zM111.9 185.9h1.6v1.6h-1.6zM117.4 186.0h1.6v1.6h-1.6zM113.6 186.0h1.6v1.6h-1.6zM116.7 185.8h1.6v1.6h-1.6zM111.5 181.9h1.6v1.6h-1.6zM115.0 185.9h1.6v1.6h-1.6zM115.8 185.2h1.6v1.6h-1.6zM116.0 185.8h1.6v1.6h-1.6zM112.8 184.3h1.6v1.6h-1.6zM113.8 185.9h1.6v1.6h-1.6zM113.3 186.4h1.6v1.6h-1.6zM113.5 181.5h1.6v1.6h-1.6zM113.5 179.7h1.6v1.6h-1.6zM114.9 186.5h1.6v1.6h-1.6zM114.3 186.4h1.6v1.6h-1.6zM114.7 179.3h1.6v1.6h-1.6zM113.6 179.2h1.6v1.6h-1.6zM114.3 178.1h1.6v1.6h-1.6zM112.1 182.0h1.6v1.6h-1.6zM112.5 185.9h1.6v1.6h-1.6zM112.3 183.6h1.6v1.6h-1.6zM118.1 186.5h1.6v1.6h-1.6zM115.2 184.3h1.6v1.6h-1.6zM111.9 184.3h1.6v1.6h-1.6zM116.4 184.6h1.6v1.6h-1.6zM116.1 185.3h1.6v1.6h-1.6zM113.1 182.6h1.6v1.6h-1.6zM117.4 185.3h1.6v1.6h-1.6zM114.6 180.6h1.6v1.6h-1.6zM141.0 185.0h1.6v1.6h-1.6zM141.7 186.1h1.6v1.6h-1.6zM138.7 184.0h1.6v1.6h-1.6zM142.3 185.2h1.6v1.6h-1.6zM138.0 186.1h1.6v1.6h-1.6zM141.7 184.2h1.6v1.6h-1.6zM126.7 184.7h1.6v1.6h-1.6zM134.1 185.5h1.6v1.6h-1.6zM119.7 185.7h1.6v1.6h-1.6zM125.5 183.0h1.6v1.6h-1.6zM120.3 185.8h1.6v1.6h-1.6zM112.4 185.8h1.6v1.6h-1.6zM120.2 186.3h1.6v1.6h-1.6zM121.2 185.8h1.6v1.6h-1.6zM135.2 186.4h1.6v1.6h-1.6zM150.8 184.7h1.6v1.6h-1.6zM111.9 185.8h1.6v1.6h-1.6zM113.0 179.7h1.6v1.6h-1.6zM121.6 183.4h1.6v1.6h-1.6zM114.1 186.3h1.6v1.6h-1.6zM141.6 184.9h1.6v1.6h-1.6zM135.2 183.6h1.6v1.6h-1.6zM147.4 185.5h1.6v1.6h-1.6zM121.0 184.9h1.6v1.6h-1.6zM149.3 185.8h1.6v1.6h-1.6zM127.6 185.9h1.6v1.6h-1.6zM143.0 183.4h1.6v1.6h-1.6zM111.2 182.4h1.6v1.6h-1.6zM117.4 184.8h1.6v1.6h-1.6zM136.7 186.1h1.6v1.6h-1.6zM137.5 186.3h1.6v1.6h-1.6zM125.5 184.8h1.6v1.6h-1.6zM111.4 183.2h1.6v1.6h-1.6zM152.2 183.3h1.6v1.6h-1.6zM151.6 182.1h1.6v1.6h-1.6zM142.3 185.7h1.6v1.6h-1.6zM116.7 183.7h1.6v1.6h-1.6zM127.9 185.6h1.6v1.6h-1.6zM120.6 185.7h1.6v1.6h-1.6zM134.8 186.4h1.6v1.6h-1.6zM115.2 183.0h1.6v1.6h-1.6zM113.5 185.8h1.6v1.6h-1.6zM115.1 185.6h1.6v1.6h-1.6zM114.2 186.3h1.6v1.6h-1.6zM123.5 184.0h1.6v1.6h-1.6zM123.6 185.3h1.6v1.6h-1.6zM145.8 181.7h1.6v1.6h-1.6zM145.5 186.1h1.6v1.6h-1.6zM150.8 185.4h1.6v1.6h-1.6zM131.2 182.2h1.6v1.6h-1.6zM139.2 185.9h1.6v1.6h-1.6zM124.3 184.8h1.6v1.6h-1.6zM152.6 184.0h1.6v1.6h-1.6zM148.4 185.0h1.6v1.6h-1.6zM123.0 186.5h1.6v1.6h-1.6zM140.0 185.6h1.6v1.6h-1.6zM146.5 185.8h1.6v1.6h-1.6zM143.3 186.5h1.6v1.6h-1.6zM144.8 185.1h1.6v1.6h-1.6zM117.3 185.0h1.6v1.6h-1.6zM134.4 185.2h1.6v1.6h-1.6zM122.0 184.0h1.6v1.6h-1.6zM134.9 184.9h1.6v1.6h-1.6zM117.6 186.4h1.6v1.6h-1.6zM131.1 182.0h1.6v1.6h-1.6zM113.3 180.9h1.6v1.6h-1.6zM116.3 183.8h1.6v1.6h-1.6zM140.0 182.5h1.6v1.6h-1.6zM127.8 186.4h1.6v1.6h-1.6zM141.6 185.3h1.6v1.6h-1.6zM143.2 181.3h1.6v1.6h-1.6zM116.8 184.4h1.6v1.6h-1.6zM118.5 185.3h1.6v1.6h-1.6zM122.9 181.4h1.6v1.6h-1.6zM149.0 184.5h1.6v1.6h-1.6zM137.6 185.8h1.6v1.6h-1.6zM111.5 186.4h1.6v1.6h-1.6zM129.3 182.2h1.6v1.6h-1.6zM140.6 179.7h1.6v1.6h-1.6zM135.8 183.7h1.6v1.6h-1.6zM138.2 184.4h1.6v1.6h-1.6zM118.9 179.8h1.6v1.6h-1.6zM128.7 180.8h1.6v1.6h-1.6zM126.2 183.2h1.6v1.6h-1.6zM150.1 183.1h1.6v1.6h-1.6zM128.8 182.2h1.6v1.6h-1.6zM148.1 184.4h1.6v1.6h-1.6zM139.3 186.4h1.6v1.6h-1.6zM131.7 185.3h1.6v1.6h-1.6zM120.0 185.0h1.6v1.6h-1.6zM152.8 186.0h1.6v1.6h-1.6zM129.9 184.2h1.6v1.6h-1.6zM131.9 185.7h1.6v1.6h-1.6zM146.3 186.4h1.6v1.6h-1.6zM129.3 180.4h1.6v1.6h-1.6zM154.6 184.6h1.6v1.6h-1.6zM135.1 186.5h1.6v1.6h-1.6zM133.4 184.8h1.6v1.6h-1.6zM127.2 185.3h1.6v1.6h-1.6zM134.3 186.3h1.6v1.6h-1.6zM125.7 184.8h1.6v1.6h-1.6zM124.8 186.5h1.6v1.6h-1.6zM122.4 185.9h1.6v1.6h-1.6zM150.2 185.9h1.6v1.6h-1.6zM126.1 184.8h1.6v1.6h-1.6zM151.3 183.0h1.6v1.6h-1.6zM144.8 184.7h1.6v1.6h-1.6zM122.0 185.6h1.6v1.6h-1.6zM112.7 186.0h1.6v1.6h-1.6zM119.1 184.4h1.6v1.6h-1.6zM138.2 186.3h1.6v1.6h-1.6zM152.6 185.1h1.6v1.6h-1.6zM111.2 186.4h1.6v1.6h-1.6zM153.1 181.6h1.6v1.6h-1.6zM149.4 184.2h1.6v1.6h-1.6zM115.9 185.5h1.6v1.6h-1.6zM138.5 182.3h1.6v1.6h-1.6zM148.8 184.7h1.6v1.6h-1.6zM149.1 186.0h1.6v1.6h-1.6zM145.7 185.5h1.6v1.6h-1.6zM120.8 186.4h1.6v1.6h-1.6zM144.9 183.1h1.6v1.6h-1.6zM145.0 180.0h1.6v1.6h-1.6zM153.9 181.9h1.6v1.6h-1.6zM127.2 186.1h1.6v1.6h-1.6zM122.2 186.3h1.6v1.6h-1.6zM150.9 183.4h1.6v1.6h-1.6zM124.0 186.5h1.6v1.6h-1.6zM128.4 180.9h1.6v1.6h-1.6zM145.1 185.3h1.6v1.6h-1.6zM119.9 184.3h1.6v1.6h-1.6zM118.6 186.1h1.6v1.6h-1.6zM111.4 184.5h1.6v1.6h-1.6zM129.9 184.5h1.6v1.6h-1.6zM144.5 185.2h1.6v1.6h-1.6zM111.5 186.0h1.6v1.6h-1.6zM147.9 185.3h1.6v1.6h-1.6zM150.7 182.7h1.6v1.6h-1.6zM134.4 181.6h1.6v1.6h-1.6zM118.1 184.4h1.6v1.6h-1.6zM143.3 184.9h1.6v1.6h-1.6zM114.1 185.5h1.6v1.6h-1.6zM127.7 185.3h1.6v1.6h-1.6zM149.8 184.9h1.6v1.6h-1.6zM142.3 186.4h1.6v1.6h-1.6zM134.1 186.2h1.6v1.6h-1.6zM133.9 185.0h1.6v1.6h-1.6zM123.3 184.8h1.6v1.6h-1.6zM145.1 183.0h1.6v1.6h-1.6zM139.8 186.4h1.6v1.6h-1.6zM133.6 186.1h1.6v1.6h-1.6zM113.5 186.2h1.6v1.6h-1.6zM111.7 184.7h1.6v1.6h-1.6zM137.5 183.8h1.6v1.6h-1.6zM129.5 185.8h1.6v1.6h-1.6zM140.6 186.0h1.6v1.6h-1.6zM117.3 183.1h1.6v1.6h-1.6zM135.3 185.6h1.6v1.6h-1.6zM141.1 182.7h1.6v1.6h-1.6zM140.1 182.9h1.6v1.6h-1.6zM146.2 184.7h1.6v1.6h-1.6zM147.5 184.6h1.6v1.6h-1.6zM149.1 184.5h1.6v1.6h-1.6zM146.4 185.9h1.6v1.6h-1.6zM136.9 185.1h1.6v1.6h-1.6zM153.7 179.5h1.6v1.6h-1.6zM140.7 184.4h1.6v1.6h-1.6zM145.6 185.0h1.6v1.6h-1.6zM138.1 182.8h1.6v1.6h-1.6zM136.1 185.9h1.6v1.6h-1.6zM140.3 186.0h1.6v1.6h-1.6zM138.5 186.3h1.6v1.6h-1.6zM145.7 186.0h1.6v1.6h-1.6zM148.3 184.3h1.6v1.6h-1.6zM147.9 184.9h1.6v1.6h-1.6zM147.7 185.7h1.6v1.6h-1.6zM144.4 183.7h1.6v1.6h-1.6zM138.9 183.3h1.6v1.6h-1.6zM147.1 177.7h1.6v1.6h-1.6zM147.8 184.6h1.6v1.6h-1.6zM151.1 185.7h1.6v1.6h-1.6zM142.4 185.1h1.6v1.6h-1.6zM150.4 183.5h1.6v1.6h-1.6zM138.3 179.1h1.6v1.6h-1.6zM155.8 184.9h1.6v1.6h-1.6zM156.1 184.2h1.6v1.6h-1.6zM142.7 186.3h1.6v1.6h-1.6zM134.6 184.4h1.6v1.6h-1.6zM150.0 184.2h1.6v1.6h-1.6zM151.4 185.1h1.6v1.6h-1.6zM150.5 184.3h1.6v1.6h-1.6zM148.2 184.6h1.6v1.6h-1.6zM148.9 184.5h1.6v1.6h-1.6zM136.2 183.8h1.6v1.6h-1.6zM149.7 185.2h1.6v1.6h-1.6zM155.5 184.9h1.6v1.6h-1.6zM137.9 184.8h1.6v1.6h-1.6zM142.1 186.1h1.6v1.6h-1.6zM153.7 186.0h1.6v1.6h-1.6zM149.9 186.1h1.6v1.6h-1.6zM136.2 181.8h1.6v1.6h-1.6zM134.3 177.4h1.6v1.6h-1.6zM154.2 185.1h1.6v1.6h-1.6zM148.2 185.0h1.6v1.6h-1.6zM137.8 185.4h1.6v1.6h-1.6zM143.9 181.6h1.6v1.6h-1.6zM136.7 184.6h1.6v1.6h-1.6zM144.6 184.6h1.6v1.6h-1.6zM151.6 184.3h1.6v1.6h-1.6zM141.3 179.1h1.6v1.6h-1.6zM147.4 185.7h1.6v1.6h-1.6zM146.2 181.7h1.6v1.6h-1.6zM135.2 184.0h1.6v1.6h-1.6zM144.9 185.7h1.6v1.6h-1.6zM137.7 185.9h1.6v1.6h-1.6zM143.8 185.2h1.6v1.6h-1.6zM147.4 185.7h1.6v1.6h-1.6zM147.8 185.0h1.6v1.6h-1.6zM151.7 182.6h1.6v1.6h-1.6zM139.4 177.5h1.6v1.6h-1.6zM146.2 185.5h1.6v1.6h-1.6zM139.8 183.5h1.6v1.6h-1.6zM143.8 183.7h1.6v1.6h-1.6zM139.8 181.8h1.6v1.6h-1.6zM140.0 181.6h1.6v1.6h-1.6zM143.8 185.3h1.6v1.6h-1.6zM146.9 184.7h1.6v1.6h-1.6zM146.3 184.5h1.6v1.6h-1.6zM155.1 183.2h1.6v1.6h-1.6zM134.5 186.4h1.6v1.6h-1.6zM152.2 185.7h1.6v1.6h-1.6zM134.8 186.0h1.6v1.6h-1.6zM145.1 182.0h1.6v1.6h-1.6zM134.6 186.1h1.6v1.6h-1.6zM134.5 186.4h1.6v1.6h-1.6zM141.1 184.9h1.6v1.6h-1.6zM155.5 184.0h1.6v1.6h-1.6zM153.0 184.4h1.6v1.6h-1.6zM154.2 183.8h1.6v1.6h-1.6zM139.5 185.4h1.6v1.6h-1.6zM144.1 163.1h1.6v1.6h-1.6zM142.9 178.5h1.6v1.6h-1.6zM143.8 169.2h1.6v1.6h-1.6zM149.1 172.6h1.6v1.6h-1.6zM151.4 179.9h1.6v1.6h-1.6zM143.7 172.8h1.6v1.6h-1.6zM120.6 166.0h1.6v1.6h-1.6zM154.2 179.9h1.6v1.6h-1.6zM127.2 176.5h1.6v1.6h-1.6zM148.8 171.6h1.6v1.6h-1.6zM124.8 166.4h1.6v1.6h-1.6zM130.8 164.0h1.6v1.6h-1.6zM112.7 165.2h1.6v1.6h-1.6zM132.0 173.2h1.6v1.6h-1.6zM130.5 179.9h1.6v1.6h-1.6zM140.4 172.0h1.6v1.6h-1.6zM148.3 181.0h1.6v1.6h-1.6zM157.4 180.5h1.6v1.6h-1.6zM122.9 168.7h1.6v1.6h-1.6zM152.9 170.8h1.6v1.6h-1.6zM132.8 167.6h1.6v1.6h-1.6zM129.0 157.6h1.6v1.6h-1.6zM142.5 177.3h1.6v1.6h-1.6zM122.7 170.2h1.6v1.6h-1.6zM146.9 166.2h1.6v1.6h-1.6zM128.3 164.5h1.6v1.6h-1.6zM137.4 172.7h1.6v1.6h-1.6zM138.0 173.5h1.6v1.6h-1.6zM143.7 158.7h1.6v1.6h-1.6zM123.5 166.8h1.6v1.6h-1.6zM131.5 107.5h1.6v1.6h-1.6zM128.9 138.2h1.6v1.6h-1.6zM118.8 155.0h1.6v1.6h-1.6zM122.7 155.0h1.6v1.6h-1.6zM116.9 159.5h1.6v1.6h-1.6zM141.3 158.8h1.6v1.6h-1.6zM145.2 162.1h1.6v1.6h-1.6zM153.6 168.5h1.6v1.6h-1.6zM160.6 173.0h1.6v1.6h-1.6zM138.8 167.8h1.6v1.6h-1.6zM127.8 163.3h1.6v1.6h-1.6zM121.4 164.6h1.6v1.6h-1.6zM115.0 165.3h1.6v1.6h-1.6zM159.7 178.2h1.6v1.6h-1.6zM156.2 175.2h1.6v1.6h-1.6z" fill="#e6961f"/>
<rect x="41.8" y="39.9" width="125.7" height="159.4" fill="none" stroke="#151515" stroke-width="1.35"/>
<line x1="38.4" y1="63.4" x2="41.8" y2="63.4" stroke="#111" stroke-width="1.1"/>
<text x="36.0" y="65.8" font-size="7.2" text-anchor="end" fill="#333333" stroke="#333333" stroke-width="0.08" textLength="7.6" lengthAdjust="spacingAndGlyphs">30</text>
<line x1="38.4" y1="106.3" x2="41.8" y2="106.3" stroke="#111" stroke-width="1.1"/>
<text x="36.0" y="108.7" font-size="7.2" text-anchor="end" fill="#333333" stroke="#333333" stroke-width="0.08" textLength="7.6" lengthAdjust="spacingAndGlyphs">20</text>
<line x1="38.4" y1="149.3" x2="41.8" y2="149.3" stroke="#111" stroke-width="1.1"/>
<text x="36.0" y="151.70000000000002" font-size="7.2" text-anchor="end" fill="#333333" stroke="#333333" stroke-width="0.08" textLength="7.6" lengthAdjust="spacingAndGlyphs">10</text>
<line x1="38.4" y1="192.2" x2="41.8" y2="192.2" stroke="#111" stroke-width="1.1"/>
<text x="36.0" y="194.6" font-size="7.2" text-anchor="end" fill="#333333" stroke="#333333" stroke-width="0.08" textLength="3.8" lengthAdjust="spacingAndGlyphs">0</text>
<line x1="72.1" y1="199.4" x2="72.1" y2="202.4" stroke="#111" stroke-width="1.0"/>
<text x="72.1" y="211.3" font-size="7.0" text-anchor="middle" fill="#333333" stroke="#333333" stroke-width="0.05" textLength="6.4" lengthAdjust="spacingAndGlyphs">-5</text>
<line x1="108.4" y1="199.4" x2="108.4" y2="202.4" stroke="#111" stroke-width="1.0"/>
<text x="108.4" y="211.3" font-size="7.0" text-anchor="middle" fill="#333333" stroke="#333333" stroke-width="0.05" textLength="3.8" lengthAdjust="spacingAndGlyphs">0</text>
<line x1="144.4" y1="199.4" x2="144.4" y2="202.4" stroke="#111" stroke-width="1.0"/>
<text x="144.4" y="211.3" font-size="7.0" text-anchor="middle" fill="#333333" stroke="#333333" stroke-width="0.05" textLength="6.4" lengthAdjust="spacingAndGlyphs">+5</text>
<text x="104.5" y="223.3" font-size="8.9" text-anchor="middle" fill="#333333" textLength="49" lengthAdjust="spacingAndGlyphs">log2FoldChange</text>
<text x="24.9" y="119.0" font-size="8.4" text-anchor="middle" fill="#383838" stroke="#383838" stroke-width="0.04" textLength="39" lengthAdjust="spacingAndGlyphs" transform="rotate(-90 24.9 119.0)">-log10(padj)</text>
<line x1="41.8" y1="63.4" x2="58.4" y2="63.4" stroke="#111" stroke-width="1.1"/>
<line x1="91.9" y1="63.4" x2="125.2" y2="63.4" stroke="#111" stroke-width="1.0"/>
<line x1="149.6" y1="63.4" x2="167" y2="63.4" stroke="#111" stroke-width="1.0"/>
<line x1="108.3" y1="61.6" x2="108.3" y2="65.0" stroke="#111" stroke-width="1.0"/>
<text x="59.8" y="65.4" font-size="6.0" text-anchor="start" fill="#4a6aa3" stroke="#4a6aa3" stroke-width="0.03" textLength="30.4" lengthAdjust="spacingAndGlyphs">DOWN: 690</text>
<text x="128.0" y="65.4" font-size="6.0" text-anchor="start" fill="#e3a24f" stroke="#e3a24f" stroke-width="0.03" textLength="19.2" lengthAdjust="spacingAndGlyphs">UP: 488</text>
<text x="53.2" y="129.0" font-size="6.2" text-anchor="start" fill="#474747" stroke="#474747" stroke-width="0.02" font-style="italic" textLength="16.0" lengthAdjust="spacingAndGlyphs">HOBIT</text>
<text x="62.8" y="153.89999999999998" font-size="6.2" text-anchor="start" fill="#474747" stroke="#474747" stroke-width="0.02" font-style="italic" textLength="14.1" lengthAdjust="spacingAndGlyphs">TXNIP</text>
<text x="62.1" y="163.7" font-size="6.2" text-anchor="start" fill="#474747" stroke="#474747" stroke-width="0.02" font-style="italic" textLength="12.5" lengthAdjust="spacingAndGlyphs">TBET</text>
<text x="53.4" y="169.7" font-size="6.2" text-anchor="start" fill="#474747" stroke="#474747" stroke-width="0.02" font-style="italic" textLength="15.9" lengthAdjust="spacingAndGlyphs">E4BP4</text>
<text x="43.4" y="175.39999999999998" font-size="6.2" text-anchor="start" fill="#474747" stroke="#474747" stroke-width="0.02" font-style="italic" textLength="16.7" lengthAdjust="spacingAndGlyphs">GATA3</text>
<text x="45.1" y="194.2" font-size="6.2" text-anchor="start" fill="#474747" stroke="#474747" stroke-width="0.02" font-style="italic" textLength="17.0" lengthAdjust="spacingAndGlyphs">BLIMP1</text>
<text x="143.4" y="156.6" font-size="6.2" text-anchor="start" fill="#474747" stroke="#474747" stroke-width="0.02" font-style="italic" textLength="19.2" lengthAdjust="spacingAndGlyphs">AIOLOS</text>
<text x="137.2" y="178.7" font-size="6.2" text-anchor="start" fill="#474747" stroke="#474747" stroke-width="0.02" font-style="italic" textLength="18.8" lengthAdjust="spacingAndGlyphs">EOMES</text>
<line x1="77.5" y1="153.5" x2="97.2" y2="159.1" stroke="#111" stroke-width="0.8"/>
<line x1="78.5" y1="162.3" x2="98.2" y2="165.7" stroke="#111" stroke-width="0.8"/>
<line x1="69.6" y1="167.5" x2="98.2" y2="171.7" stroke="#111" stroke-width="0.8"/>
<line x1="59.7" y1="174.5" x2="99.1" y2="179.7" stroke="#111" stroke-width="0.8"/>
<line x1="58.8" y1="188.5" x2="100" y2="182.2" stroke="#111" stroke-width="0.8"/>
<line x1="141" y1="155" x2="118.5" y2="164.2" stroke="#111" stroke-width="0.8"/>
<line x1="135" y1="176" x2="113.8" y2="185.4" stroke="#111" stroke-width="0.8"/>
<line x1="71.7" y1="126.9" x2="83.5" y2="126.9" stroke="#666" stroke-width="1.2"/>
<line x1="217.3" y1="34" x2="217.3" y2="45.3" stroke="#222" stroke-width="1.1"/>
<line x1="217.3" y1="49.3" x2="217.3" y2="95.9" stroke="#222" stroke-width="1.1"/>
<line x1="215.5" y1="49.3" x2="219.10000000000002" y2="49.3" stroke="#222" stroke-width="0.9"/>
<line x1="215.8" y1="45.3" x2="218.10000000000002" y2="45.3" stroke="#222" stroke-width="0.9"/>
<line x1="214.10000000000002" y1="36" x2="217.3" y2="36" stroke="#222" stroke-width="1.0"/>
<text x="211.0" y="38.5" font-size="7.0" text-anchor="end" fill="#141414" stroke="#141414" stroke-width="0.1" textLength="12.4" lengthAdjust="spacingAndGlyphs">0.08</text>
<line x1="214.10000000000002" y1="42.9" x2="217.3" y2="42.9" stroke="#222" stroke-width="1.0"/>
<text x="211.0" y="45.4" font-size="7.0" text-anchor="end" fill="#141414" stroke="#141414" stroke-width="0.1" textLength="12.4" lengthAdjust="spacingAndGlyphs">0.04</text>
<line x1="214.10000000000002" y1="49.5" x2="217.3" y2="49.5" stroke="#222" stroke-width="1.0"/>
<text x="211.0" y="52.0" font-size="7.0" text-anchor="end" fill="#141414" stroke="#141414" stroke-width="0.1" textLength="15.94" lengthAdjust="spacingAndGlyphs">0.005</text>
<line x1="214.10000000000002" y1="58.8" x2="217.3" y2="58.8" stroke="#222" stroke-width="1.0"/>
<text x="211.0" y="61.3" font-size="7.0" text-anchor="end" fill="#141414" stroke="#141414" stroke-width="0.1" textLength="15.94" lengthAdjust="spacingAndGlyphs">0.004</text>
<line x1="214.10000000000002" y1="68.1" x2="217.3" y2="68.1" stroke="#222" stroke-width="1.0"/>
<text x="211.0" y="70.6" font-size="7.0" text-anchor="end" fill="#141414" stroke="#141414" stroke-width="0.1" textLength="15.94" lengthAdjust="spacingAndGlyphs">0.003</text>
<line x1="214.10000000000002" y1="77.3" x2="217.3" y2="77.3" stroke="#222" stroke-width="1.0"/>
<text x="211.0" y="79.8" font-size="7.0" text-anchor="end" fill="#141414" stroke="#141414" stroke-width="0.1" textLength="15.94" lengthAdjust="spacingAndGlyphs">0.002</text>
<line x1="214.10000000000002" y1="86.6" x2="217.3" y2="86.6" stroke="#222" stroke-width="1.0"/>
<text x="211.0" y="89.1" font-size="7.0" text-anchor="end" fill="#141414" stroke="#141414" stroke-width="0.1" textLength="15.94" lengthAdjust="spacingAndGlyphs">0.001</text>
<line x1="214.10000000000002" y1="95.9" x2="217.3" y2="95.9" stroke="#222" stroke-width="1.0"/>
<text x="211.0" y="98.4" font-size="7.0" text-anchor="end" fill="#141414" stroke="#141414" stroke-width="0.1" textLength="15.94" lengthAdjust="spacingAndGlyphs">0.000</text>
<line x1="217.3" y1="95.9" x2="290.4" y2="95.9" stroke="#222" stroke-width="1.1"/>
<line x1="226.3" y1="95.9" x2="226.3" y2="98.7" stroke="#222" stroke-width="0.9"/>
<line x1="244.8" y1="95.9" x2="244.8" y2="98.7" stroke="#222" stroke-width="0.9"/>
<line x1="263.2" y1="95.9" x2="263.2" y2="98.7" stroke="#222" stroke-width="0.9"/>
<line x1="281.4" y1="95.9" x2="281.4" y2="98.7" stroke="#222" stroke-width="0.9"/>
<rect x="221.10" y="94.40" width="4.30" height="1.50" fill="#4c5469" stroke="#373d51" stroke-width="0.45"/>
<line x1="223.25000000000003" y1="93.0" x2="223.25000000000003" y2="94.2" stroke="#373d51" stroke-width="0.9"/>
<line x1="221.95000000000002" y1="93.0" x2="224.55000000000004" y2="93.0" stroke="#222" stroke-width="0.9"/>
<rect x="239.60" y="92.00" width="4.30" height="3.90" fill="#4c5469" stroke="#373d51" stroke-width="0.45"/>
<line x1="241.75000000000003" y1="90.9" x2="241.75000000000003" y2="91.8" stroke="#373d51" stroke-width="0.9"/>
<line x1="240.45000000000002" y1="90.9" x2="243.05000000000004" y2="90.9" stroke="#222" stroke-width="0.9"/>
<rect x="246.10" y="95.30" width="4.30" height="0.60" fill="#ac0029" stroke="#8e0020" stroke-width="0.45"/>
<rect x="258.00" y="94.90" width="4.30" height="1.00" fill="#4c5469" stroke="#373d51" stroke-width="0.45"/>
<rect x="264.50" y="93.40" width="4.30" height="2.50" fill="#ac0029" stroke="#8e0020" stroke-width="0.45"/>
<line x1="266.65000000000003" y1="92.4" x2="266.65000000000003" y2="93.2" stroke="#555" stroke-width="0.9"/>
<line x1="265.35" y1="92.4" x2="267.95000000000005" y2="92.4" stroke="#222" stroke-width="0.9"/>
<rect x="276.20" y="40.20" width="4.30" height="55.70" fill="#4c5469" stroke="#373d51" stroke-width="0.45"/>
<line x1="278.34999999999997" y1="39.2" x2="278.34999999999997" y2="40.0" stroke="#373d51" stroke-width="0.9"/>
<line x1="277.04999999999995" y1="39.2" x2="279.65" y2="39.2" stroke="#222" stroke-width="0.9"/>
<rect x="282.70" y="44.40" width="4.30" height="51.50" fill="#ac0029" stroke="#8e0020" stroke-width="0.45"/>
<rect x="218.30" y="45.30" width="73.10" height="4.00" fill="#fff"/>
<line x1="242.1" y1="87.8" x2="249.0" y2="87.8" stroke="#444" stroke-width="1.0"/>
<text x="245.6" y="88.3" font-size="5.5" text-anchor="middle" fill="#141414" stroke="#141414" stroke-width="0.1">*</text>
<line x1="260.0" y1="89.3" x2="266.9" y2="89.3" stroke="#444" stroke-width="1.0"/>
<text x="263.5" y="89.8" font-size="5.5" text-anchor="middle" fill="#141414" stroke="#141414" stroke-width="0.1">*</text>
<line x1="277.9" y1="36.4" x2="285.0" y2="36.4" stroke="#444" stroke-width="1.0"/>
<text x="281.5" y="36.7" font-size="5.5" text-anchor="middle" fill="#141414" stroke="#141414" stroke-width="0.1">*</text>
<text x="253.8" y="43.8" font-size="5.4" text-anchor="middle" fill="#3a3a3a" textLength="16.5" lengthAdjust="spacingAndGlyphs">(<tspan font-style="italic">n</tspan>=2-5)</text>
<text x="254.1" y="26.9" font-size="9" text-anchor="middle" fill="#141414" stroke="#141414" stroke-width="0.1" font-style="italic" textLength="27" lengthAdjust="spacingAndGlyphs">GATA3</text>
<text x="229.20000000000002" y="105.9" font-size="7.2" text-anchor="end" fill="#262626" stroke="#262626" stroke-width="0.02" textLength="19.78" lengthAdjust="spacingAndGlyphs" transform="rotate(-45 229.20000000000002 105.9)">stage1</text>
<text x="247.70000000000002" y="105.9" font-size="7.2" text-anchor="end" fill="#262626" stroke="#262626" stroke-width="0.02" textLength="19.78" lengthAdjust="spacingAndGlyphs" transform="rotate(-45 247.70000000000002 105.9)">stage2</text>
<text x="266.09999999999997" y="105.9" font-size="7.2" text-anchor="end" fill="#262626" stroke="#262626" stroke-width="0.02" textLength="19.78" lengthAdjust="spacingAndGlyphs" transform="rotate(-45 266.09999999999997 105.9)">stage3</text>
<text x="284.29999999999995" y="105.9" font-size="7.2" text-anchor="end" fill="#262626" stroke="#262626" stroke-width="0.02" textLength="14.64" lengthAdjust="spacingAndGlyphs" transform="rotate(-45 284.29999999999995 105.9)">mNK</text>
<line x1="325.4" y1="34" x2="325.4" y2="63.1" stroke="#222" stroke-width="1.1"/>
<line x1="325.4" y1="68.3" x2="325.4" y2="96.0" stroke="#222" stroke-width="1.1"/>
<line x1="323.59999999999997" y1="68.3" x2="327.2" y2="68.3" stroke="#222" stroke-width="0.9"/>
<line x1="323.9" y1="63.1" x2="326.2" y2="63.1" stroke="#222" stroke-width="0.9"/>
<line x1="322.2" y1="34.5" x2="325.4" y2="34.5" stroke="#222" stroke-width="1.0"/>
<text x="319.09999999999997" y="37.0" font-size="7.0" text-anchor="end" fill="#141414" stroke="#141414" stroke-width="0.1" textLength="12.4" lengthAdjust="spacingAndGlyphs">0.05</text>
<line x1="322.2" y1="40.3" x2="325.4" y2="40.3" stroke="#222" stroke-width="1.0"/>
<text x="319.09999999999997" y="42.8" font-size="7.0" text-anchor="end" fill="#141414" stroke="#141414" stroke-width="0.1" textLength="12.4" lengthAdjust="spacingAndGlyphs">0.04</text>
<line x1="322.2" y1="46.2" x2="325.4" y2="46.2" stroke="#222" stroke-width="1.0"/>
<text x="319.09999999999997" y="48.7" font-size="7.0" text-anchor="end" fill="#141414" stroke="#141414" stroke-width="0.1" textLength="12.4" lengthAdjust="spacingAndGlyphs">0.03</text>
<line x1="322.2" y1="52.2" x2="325.4" y2="52.2" stroke="#222" stroke-width="1.0"/>
<text x="319.09999999999997" y="54.7" font-size="7.0" text-anchor="end" fill="#141414" stroke="#141414" stroke-width="0.1" textLength="12.4" lengthAdjust="spacingAndGlyphs">0.02</text>
<line x1="322.2" y1="58.2" x2="325.4" y2="58.2" stroke="#222" stroke-width="1.0"/>
<text x="319.09999999999997" y="60.7" font-size="7.0" text-anchor="end" fill="#141414" stroke="#141414" stroke-width="0.1" textLength="12.4" lengthAdjust="spacingAndGlyphs">0.01</text>
<line x1="322.2" y1="73.6" x2="325.4" y2="73.6" stroke="#222" stroke-width="1.0"/>
<text x="319.09999999999997" y="76.1" font-size="7.0" text-anchor="end" fill="#141414" stroke="#141414" stroke-width="0.1" textLength="19.48" lengthAdjust="spacingAndGlyphs">0.0006</text>
<line x1="322.2" y1="81.1" x2="325.4" y2="81.1" stroke="#222" stroke-width="1.0"/>
<text x="319.09999999999997" y="83.6" font-size="7.0" text-anchor="end" fill="#141414" stroke="#141414" stroke-width="0.1" textLength="19.48" lengthAdjust="spacingAndGlyphs">0.0004</text>
<line x1="322.2" y1="88.5" x2="325.4" y2="88.5" stroke="#222" stroke-width="1.0"/>
<text x="319.09999999999997" y="91.0" font-size="7.0" text-anchor="end" fill="#141414" stroke="#141414" stroke-width="0.1" textLength="19.48" lengthAdjust="spacingAndGlyphs">0.0002</text>
<line x1="322.2" y1="96.0" x2="325.4" y2="96.0" stroke="#222" stroke-width="1.0"/>
<text x="319.09999999999997" y="98.5" font-size="7.0" text-anchor="end" fill="#141414" stroke="#141414" stroke-width="0.1" textLength="19.48" lengthAdjust="spacingAndGlyphs">0.0000</text>
<line x1="325.4" y1="96.0" x2="398.5" y2="96.0" stroke="#222" stroke-width="1.1"/>
<line x1="334.6" y1="96.0" x2="334.6" y2="98.8" stroke="#222" stroke-width="0.9"/>
<line x1="352.6" y1="96.0" x2="352.6" y2="98.8" stroke="#222" stroke-width="0.9"/>
<line x1="371.1" y1="96.0" x2="371.1" y2="98.8" stroke="#222" stroke-width="0.9"/>
<line x1="389.2" y1="96.0" x2="389.2" y2="98.8" stroke="#222" stroke-width="0.9"/>
<rect x="329.40" y="92.20" width="4.30" height="3.80" fill="#4c5469" stroke="#373d51" stroke-width="0.45"/>
<line x1="331.55" y1="89.2" x2="331.55" y2="92.0" stroke="#373d51" stroke-width="0.9"/>
<line x1="330.25" y1="89.2" x2="332.85" y2="89.2" stroke="#222" stroke-width="0.9"/>
<rect x="335.90" y="93.30" width="4.30" height="2.70" fill="#ac0029" stroke="#8e0020" stroke-width="0.45"/>
<line x1="338.05000000000007" y1="91.5" x2="338.05000000000007" y2="93.1" stroke="#555" stroke-width="0.9"/>
<line x1="336.75000000000006" y1="91.5" x2="339.3500000000001" y2="91.5" stroke="#222" stroke-width="0.9"/>
<rect x="347.40" y="94.00" width="4.30" height="2.00" fill="#4c5469" stroke="#373d51" stroke-width="0.45"/>
<line x1="349.55" y1="93.0" x2="349.55" y2="93.8" stroke="#373d51" stroke-width="0.9"/>
<line x1="348.25" y1="93.0" x2="350.85" y2="93.0" stroke="#222" stroke-width="0.9"/>
<rect x="353.90" y="95.80" width="4.30" height="0.20" fill="#ac0029" stroke="#8e0020" stroke-width="0.45"/>
<rect x="365.90" y="62.10" width="4.30" height="33.90" fill="#4c5469" stroke="#373d51" stroke-width="0.45"/>
<line x1="368.05" y1="61.0" x2="368.05" y2="61.9" stroke="#373d51" stroke-width="0.9"/>
<line x1="366.75" y1="61.0" x2="369.35" y2="61.0" stroke="#222" stroke-width="0.9"/>
<rect x="372.40" y="91.00" width="4.30" height="5.00" fill="#ac0029" stroke="#8e0020" stroke-width="0.45"/>
<line x1="374.55000000000007" y1="88.5" x2="374.55000000000007" y2="90.8" stroke="#555" stroke-width="0.9"/>
<line x1="373.25000000000006" y1="88.5" x2="375.8500000000001" y2="88.5" stroke="#222" stroke-width="0.9"/>
<rect x="384.00" y="49.70" width="4.30" height="46.30" fill="#4c5469" stroke="#373d51" stroke-width="0.45"/>
<line x1="386.15" y1="47.7" x2="386.15" y2="49.5" stroke="#373d51" stroke-width="0.9"/>
<line x1="384.84999999999997" y1="47.7" x2="387.45" y2="47.7" stroke="#222" stroke-width="0.9"/>
<rect x="390.50" y="81.00" width="4.30" height="15.00" fill="#ac0029" stroke="#8e0020" stroke-width="0.45"/>
<line x1="392.65000000000003" y1="73.6" x2="392.65000000000003" y2="80.8" stroke="#555" stroke-width="0.9"/>
<line x1="391.35" y1="73.6" x2="393.95000000000005" y2="73.6" stroke="#222" stroke-width="0.9"/>
<rect x="326.40" y="63.10" width="73.10" height="5.20" fill="#fff"/>
<line x1="368.0" y1="58.1" x2="375.0" y2="58.1" stroke="#444" stroke-width="1.0"/>
<text x="371.0" y="58.4" font-size="5.5" text-anchor="middle" fill="#141414" stroke="#141414" stroke-width="0.1">*</text>
<line x1="385.0" y1="44.5" x2="393.0" y2="44.5" stroke="#444" stroke-width="1.0"/>
<text x="389.1" y="43.800000000000004" font-size="5.5" text-anchor="middle" fill="#141414" stroke="#141414" stroke-width="0.1">*</text>
<text x="362.1" y="42.9" font-size="5.4" text-anchor="middle" fill="#3a3a3a" textLength="17.5" lengthAdjust="spacingAndGlyphs">(<tspan font-style="italic">n</tspan>=3-4)</text>
<text x="361.5" y="26.8" font-size="9" text-anchor="middle" fill="#141414" stroke="#141414" stroke-width="0.1" font-style="italic" textLength="26" lengthAdjust="spacingAndGlyphs">HOBIT</text>
<text x="337.5" y="106.0" font-size="7.2" text-anchor="end" fill="#262626" stroke="#262626" stroke-width="0.02" textLength="19.78" lengthAdjust="spacingAndGlyphs" transform="rotate(-45 337.5 106.0)">stage1</text>
<text x="355.5" y="106.0" font-size="7.2" text-anchor="end" fill="#262626" stroke="#262626" stroke-width="0.02" textLength="19.78" lengthAdjust="spacingAndGlyphs" transform="rotate(-45 355.5 106.0)">stage2</text>
<text x="374.0" y="106.0" font-size="7.2" text-anchor="end" fill="#262626" stroke="#262626" stroke-width="0.02" textLength="19.78" lengthAdjust="spacingAndGlyphs" transform="rotate(-45 374.0 106.0)">stage3</text>
<text x="392.09999999999997" y="106.0" font-size="7.2" text-anchor="end" fill="#262626" stroke="#262626" stroke-width="0.02" textLength="14.64" lengthAdjust="spacingAndGlyphs" transform="rotate(-45 392.09999999999997 106.0)">mNK</text>
<line x1="434.5" y1="34" x2="434.5" y2="45.3" stroke="#222" stroke-width="1.1"/>
<line x1="434.5" y1="49.3" x2="434.5" y2="95.9" stroke="#222" stroke-width="1.1"/>
<line x1="432.7" y1="49.3" x2="436.3" y2="49.3" stroke="#222" stroke-width="0.9"/>
<line x1="433.0" y1="45.3" x2="435.3" y2="45.3" stroke="#222" stroke-width="0.9"/>
<line x1="431.3" y1="35.6" x2="434.5" y2="35.6" stroke="#222" stroke-width="1.0"/>
<text x="428.2" y="38.1" font-size="7.0" text-anchor="end" fill="#141414" stroke="#141414" stroke-width="0.1" textLength="12.4" lengthAdjust="spacingAndGlyphs">0.08</text>
<line x1="431.3" y1="42.0" x2="434.5" y2="42.0" stroke="#222" stroke-width="1.0"/>
<text x="428.2" y="44.5" font-size="7.0" text-anchor="end" fill="#141414" stroke="#141414" stroke-width="0.1" textLength="12.4" lengthAdjust="spacingAndGlyphs">0.04</text>
<line x1="431.3" y1="49.5" x2="434.5" y2="49.5" stroke="#222" stroke-width="1.0"/>
<text x="428.2" y="52.0" font-size="7.0" text-anchor="end" fill="#141414" stroke="#141414" stroke-width="0.1" textLength="15.94" lengthAdjust="spacingAndGlyphs">0.005</text>
<line x1="431.3" y1="58.8" x2="434.5" y2="58.8" stroke="#222" stroke-width="1.0"/>
<text x="428.2" y="61.3" font-size="7.0" text-anchor="end" fill="#141414" stroke="#141414" stroke-width="0.1" textLength="15.94" lengthAdjust="spacingAndGlyphs">0.004</text>
<line x1="431.3" y1="68.1" x2="434.5" y2="68.1" stroke="#222" stroke-width="1.0"/>
<text x="428.2" y="70.6" font-size="7.0" text-anchor="end" fill="#141414" stroke="#141414" stroke-width="0.1" textLength="15.94" lengthAdjust="spacingAndGlyphs">0.003</text>
<line x1="431.3" y1="77.3" x2="434.5" y2="77.3" stroke="#222" stroke-width="1.0"/>
<text x="428.2" y="79.8" font-size="7.0" text-anchor="end" fill="#141414" stroke="#141414" stroke-width="0.1" textLength="15.94" lengthAdjust="spacingAndGlyphs">0.002</text>
<line x1="431.3" y1="86.6" x2="434.5" y2="86.6" stroke="#222" stroke-width="1.0"/>
<text x="428.2" y="89.1" font-size="7.0" text-anchor="end" fill="#141414" stroke="#141414" stroke-width="0.1" textLength="15.94" lengthAdjust="spacingAndGlyphs">0.001</text>
<line x1="431.3" y1="95.9" x2="434.5" y2="95.9" stroke="#222" stroke-width="1.0"/>
<text x="428.2" y="98.4" font-size="7.0" text-anchor="end" fill="#141414" stroke="#141414" stroke-width="0.1" textLength="15.94" lengthAdjust="spacingAndGlyphs">0.000</text>
<line x1="434.5" y1="95.9" x2="507.6" y2="95.9" stroke="#222" stroke-width="1.1"/>
<line x1="442.2" y1="95.9" x2="442.2" y2="98.7" stroke="#222" stroke-width="0.9"/>
<line x1="460.3" y1="95.9" x2="460.3" y2="98.7" stroke="#222" stroke-width="0.9"/>
<line x1="478.8" y1="95.9" x2="478.8" y2="98.7" stroke="#222" stroke-width="0.9"/>
<line x1="496.9" y1="95.9" x2="496.9" y2="98.7" stroke="#222" stroke-width="0.9"/>
<rect x="437.00" y="94.20" width="4.30" height="1.70" fill="#4c5469" stroke="#373d51" stroke-width="0.45"/>
<line x1="439.15" y1="92.6" x2="439.15" y2="94.0" stroke="#373d51" stroke-width="0.9"/>
<line x1="437.84999999999997" y1="92.6" x2="440.45" y2="92.6" stroke="#222" stroke-width="0.9"/>
<rect x="443.50" y="94.40" width="4.30" height="1.50" fill="#ac0029" stroke="#8e0020" stroke-width="0.45"/>
<rect x="455.10" y="93.60" width="4.30" height="2.30" fill="#4c5469" stroke="#373d51" stroke-width="0.45"/>
<line x1="457.25" y1="92.0" x2="457.25" y2="93.4" stroke="#373d51" stroke-width="0.9"/>
<line x1="455.95" y1="92.0" x2="458.55" y2="92.0" stroke="#222" stroke-width="0.9"/>
<rect x="461.60" y="95.20" width="4.30" height="0.70" fill="#ac0029" stroke="#8e0020" stroke-width="0.45"/>
<rect x="473.60" y="83.60" width="4.30" height="12.30" fill="#4c5469" stroke="#373d51" stroke-width="0.45"/>
<line x1="475.75" y1="79.7" x2="475.75" y2="83.4" stroke="#373d51" stroke-width="0.9"/>
<line x1="474.45" y1="79.7" x2="477.05" y2="79.7" stroke="#222" stroke-width="0.9"/>
<rect x="480.10" y="95.60" width="4.30" height="0.30" fill="#ac0029" stroke="#8e0020" stroke-width="0.45"/>
<rect x="491.70" y="38.90" width="4.30" height="57.00" fill="#4c5469" stroke="#373d51" stroke-width="0.45"/>
<line x1="493.84999999999997" y1="37.5" x2="493.84999999999997" y2="38.7" stroke="#373d51" stroke-width="0.9"/>
<line x1="492.54999999999995" y1="37.5" x2="495.15" y2="37.5" stroke="#222" stroke-width="0.9"/>
<rect x="498.20" y="44.50" width="4.30" height="51.40" fill="#ac0029" stroke="#8e0020" stroke-width="0.45"/>
<rect x="435.50" y="45.30" width="73.10" height="4.00" fill="#fff"/>
<line x1="475.4" y1="76.9" x2="481.8" y2="76.9" stroke="#444" stroke-width="1.0"/>
<text x="478.8" y="77.0" font-size="5.5" text-anchor="middle" fill="#141414" stroke="#141414" stroke-width="0.1">*</text>
<line x1="493.5" y1="34.7" x2="500.0" y2="34.7" stroke="#444" stroke-width="1.0"/>
<text x="496.9" y="35.1" font-size="5.5" text-anchor="middle" fill="#141414" stroke="#141414" stroke-width="0.1">*</text>
<text x="469.8" y="43.199999999999996" font-size="5.4" text-anchor="middle" fill="#3a3a3a" textLength="18.2" lengthAdjust="spacingAndGlyphs">(<tspan font-style="italic">n</tspan>=3-4)</text>
<text x="469.9" y="26.8" font-size="9" text-anchor="middle" fill="#141414" stroke="#141414" stroke-width="0.1" font-style="italic" textLength="19" lengthAdjust="spacingAndGlyphs">TBET</text>
<text x="445.09999999999997" y="105.9" font-size="7.2" text-anchor="end" fill="#262626" stroke="#262626" stroke-width="0.02" textLength="19.78" lengthAdjust="spacingAndGlyphs" transform="rotate(-45 445.09999999999997 105.9)">stage1</text>
<text x="463.2" y="105.9" font-size="7.2" text-anchor="end" fill="#262626" stroke="#262626" stroke-width="0.02" textLength="19.78" lengthAdjust="spacingAndGlyphs" transform="rotate(-45 463.2 105.9)">stage2</text>
<text x="481.7" y="105.9" font-size="7.2" text-anchor="end" fill="#262626" stroke="#262626" stroke-width="0.02" textLength="19.78" lengthAdjust="spacingAndGlyphs" transform="rotate(-45 481.7 105.9)">stage3</text>
<text x="499.79999999999995" y="105.9" font-size="7.2" text-anchor="end" fill="#262626" stroke="#262626" stroke-width="0.02" textLength="14.64" lengthAdjust="spacingAndGlyphs" transform="rotate(-45 499.79999999999995 105.9)">mNK</text>
<line x1="217.2" y1="143.1" x2="217.2" y2="206.2" stroke="#222" stroke-width="1.1"/>
<line x1="214.0" y1="144.6" x2="217.2" y2="144.6" stroke="#222" stroke-width="1.0"/>
<text x="210.89999999999998" y="147.1" font-size="7.0" text-anchor="end" fill="#141414" stroke="#141414" stroke-width="0.1" textLength="8.86" lengthAdjust="spacingAndGlyphs">0.8</text>
<line x1="214.0" y1="160.1" x2="217.2" y2="160.1" stroke="#222" stroke-width="1.0"/>
<text x="210.89999999999998" y="162.6" font-size="7.0" text-anchor="end" fill="#141414" stroke="#141414" stroke-width="0.1" textLength="8.86" lengthAdjust="spacingAndGlyphs">0.6</text>
<line x1="214.0" y1="175.4" x2="217.2" y2="175.4" stroke="#222" stroke-width="1.0"/>
<text x="210.89999999999998" y="177.9" font-size="7.0" text-anchor="end" fill="#141414" stroke="#141414" stroke-width="0.1" textLength="8.86" lengthAdjust="spacingAndGlyphs">0.4</text>
<line x1="214.0" y1="190.8" x2="217.2" y2="190.8" stroke="#222" stroke-width="1.0"/>
<text x="210.89999999999998" y="193.3" font-size="7.0" text-anchor="end" fill="#141414" stroke="#141414" stroke-width="0.1" textLength="8.86" lengthAdjust="spacingAndGlyphs">0.2</text>
<line x1="214.0" y1="206.2" x2="217.2" y2="206.2" stroke="#222" stroke-width="1.0"/>
<text x="210.89999999999998" y="208.7" font-size="7.0" text-anchor="end" fill="#141414" stroke="#141414" stroke-width="0.1" textLength="8.86" lengthAdjust="spacingAndGlyphs">0.0</text>
<line x1="217.2" y1="206.2" x2="290.4" y2="206.2" stroke="#222" stroke-width="1.1"/>
<line x1="226.3" y1="206.2" x2="226.3" y2="209.0" stroke="#222" stroke-width="0.9"/>
<line x1="244.8" y1="206.2" x2="244.8" y2="209.0" stroke="#222" stroke-width="0.9"/>
<line x1="263.2" y1="206.2" x2="263.2" y2="209.0" stroke="#222" stroke-width="0.9"/>
<line x1="281.4" y1="206.2" x2="281.4" y2="209.0" stroke="#222" stroke-width="0.9"/>
<rect x="221.10" y="197.40" width="4.30" height="8.80" fill="#4c5469" stroke="#373d51" stroke-width="0.45"/>
<line x1="223.25000000000003" y1="195.0" x2="223.25000000000003" y2="197.2" stroke="#373d51" stroke-width="0.9"/>
<line x1="221.95000000000002" y1="195.0" x2="224.55000000000004" y2="195.0" stroke="#222" stroke-width="0.9"/>
<rect x="227.60" y="197.40" width="4.30" height="8.80" fill="#ac0029" stroke="#8e0020" stroke-width="0.45"/>
<line x1="229.75" y1="195.0" x2="229.75" y2="197.2" stroke="#555" stroke-width="0.9"/>
<line x1="228.45" y1="195.0" x2="231.05" y2="195.0" stroke="#222" stroke-width="0.9"/>
<rect x="239.60" y="196.70" width="4.30" height="9.50" fill="#4c5469" stroke="#373d51" stroke-width="0.45"/>
<line x1="241.75000000000003" y1="194.6" x2="241.75000000000003" y2="196.5" stroke="#373d51" stroke-width="0.9"/>
<line x1="240.45000000000002" y1="194.6" x2="243.05000000000004" y2="194.6" stroke="#222" stroke-width="0.9"/>
<rect x="246.10" y="197.40" width="4.30" height="8.80" fill="#ac0029" stroke="#8e0020" stroke-width="0.45"/>
<line x1="248.25" y1="196.3" x2="248.25" y2="197.2" stroke="#555" stroke-width="0.9"/>
<line x1="246.95" y1="196.3" x2="249.55" y2="196.3" stroke="#222" stroke-width="0.9"/>
<rect x="258.00" y="180.90" width="4.30" height="25.30" fill="#4c5469" stroke="#373d51" stroke-width="0.45"/>
<line x1="260.15" y1="176.4" x2="260.15" y2="180.7" stroke="#373d51" stroke-width="0.9"/>
<line x1="258.84999999999997" y1="176.4" x2="261.45" y2="176.4" stroke="#222" stroke-width="0.9"/>
<rect x="264.50" y="186.00" width="4.30" height="20.20" fill="#ac0029" stroke="#8e0020" stroke-width="0.45"/>
<line x1="266.65000000000003" y1="184.5" x2="266.65000000000003" y2="185.8" stroke="#555" stroke-width="0.9"/>
<line x1="265.35" y1="184.5" x2="267.95000000000005" y2="184.5" stroke="#222" stroke-width="0.9"/>
<rect x="276.20" y="160.30" width="4.30" height="45.90" fill="#4c5469" stroke="#373d51" stroke-width="0.45"/>
<line x1="278.34999999999997" y1="149.6" x2="278.34999999999997" y2="160.1" stroke="#373d51" stroke-width="0.9"/>
<line x1="277.04999999999995" y1="149.6" x2="279.65" y2="149.6" stroke="#222" stroke-width="0.9"/>
<rect x="282.70" y="191.40" width="4.30" height="14.80" fill="#ac0029" stroke="#8e0020" stroke-width="0.45"/>
<line x1="284.85" y1="188.2" x2="284.85" y2="191.2" stroke="#555" stroke-width="0.9"/>
<line x1="283.55" y1="188.2" x2="286.15000000000003" y2="188.2" stroke="#222" stroke-width="0.9"/>
<line x1="278.2" y1="147.2" x2="285.0" y2="147.2" stroke="#444" stroke-width="1.0"/>
<text x="281.4" y="147.1" font-size="5.5" text-anchor="middle" fill="#141414" stroke="#141414" stroke-width="0.1">*</text>
<text x="254.0" y="152.20000000000002" font-size="5.4" text-anchor="middle" fill="#3a3a3a" textLength="17.5" lengthAdjust="spacingAndGlyphs">(<tspan font-style="italic">n</tspan>=3-7)</text>
<text x="254.2" y="136.4" font-size="9" text-anchor="middle" fill="#141414" stroke="#141414" stroke-width="0.1" font-style="italic" textLength="24" lengthAdjust="spacingAndGlyphs">TXNIP</text>
<text x="229.20000000000002" y="216.2" font-size="7.2" text-anchor="end" fill="#262626" stroke="#262626" stroke-width="0.02" textLength="19.78" lengthAdjust="spacingAndGlyphs" transform="rotate(-45 229.20000000000002 216.2)">stage1</text>
<text x="247.70000000000002" y="216.2" font-size="7.2" text-anchor="end" fill="#262626" stroke="#262626" stroke-width="0.02" textLength="19.78" lengthAdjust="spacingAndGlyphs" transform="rotate(-45 247.70000000000002 216.2)">stage2</text>
<text x="266.09999999999997" y="216.2" font-size="7.2" text-anchor="end" fill="#262626" stroke="#262626" stroke-width="0.02" textLength="19.78" lengthAdjust="spacingAndGlyphs" transform="rotate(-45 266.09999999999997 216.2)">stage3</text>
<text x="284.29999999999995" y="216.2" font-size="7.2" text-anchor="end" fill="#262626" stroke="#262626" stroke-width="0.02" textLength="14.64" lengthAdjust="spacingAndGlyphs" transform="rotate(-45 284.29999999999995 216.2)">mNK</text>
<line x1="325.7" y1="143.1" x2="325.7" y2="206.2" stroke="#222" stroke-width="1.1"/>
<line x1="322.5" y1="144.7" x2="325.7" y2="144.7" stroke="#222" stroke-width="1.0"/>
<text x="319.4" y="147.2" font-size="7.0" text-anchor="end" fill="#141414" stroke="#141414" stroke-width="0.1" textLength="12.4" lengthAdjust="spacingAndGlyphs">0.04</text>
<line x1="322.5" y1="160.1" x2="325.7" y2="160.1" stroke="#222" stroke-width="1.0"/>
<text x="319.4" y="162.6" font-size="7.0" text-anchor="end" fill="#141414" stroke="#141414" stroke-width="0.1" textLength="12.4" lengthAdjust="spacingAndGlyphs">0.03</text>
<line x1="322.5" y1="175.4" x2="325.7" y2="175.4" stroke="#222" stroke-width="1.0"/>
<text x="319.4" y="177.9" font-size="7.0" text-anchor="end" fill="#141414" stroke="#141414" stroke-width="0.1" textLength="12.4" lengthAdjust="spacingAndGlyphs">0.02</text>
<line x1="322.5" y1="190.8" x2="325.7" y2="190.8" stroke="#222" stroke-width="1.0"/>
<text x="319.4" y="193.3" font-size="7.0" text-anchor="end" fill="#141414" stroke="#141414" stroke-width="0.1" textLength="12.4" lengthAdjust="spacingAndGlyphs">0.01</text>
<line x1="322.5" y1="206.2" x2="325.7" y2="206.2" stroke="#222" stroke-width="1.0"/>
<text x="319.4" y="208.7" font-size="7.0" text-anchor="end" fill="#141414" stroke="#141414" stroke-width="0.1" textLength="12.4" lengthAdjust="spacingAndGlyphs">0.00</text>
<line x1="325.7" y1="206.2" x2="398.5" y2="206.2" stroke="#222" stroke-width="1.1"/>
<line x1="334.6" y1="206.2" x2="334.6" y2="209.0" stroke="#222" stroke-width="0.9"/>
<line x1="352.6" y1="206.2" x2="352.6" y2="209.0" stroke="#222" stroke-width="0.9"/>
<line x1="371.1" y1="206.2" x2="371.1" y2="209.0" stroke="#222" stroke-width="0.9"/>
<line x1="389.2" y1="206.2" x2="389.2" y2="209.0" stroke="#222" stroke-width="0.9"/>
<rect x="329.40" y="189.30" width="4.30" height="16.90" fill="#4c5469" stroke="#373d51" stroke-width="0.45"/>
<line x1="331.55" y1="188.2" x2="331.55" y2="189.1" stroke="#373d51" stroke-width="0.9"/>
<line x1="330.25" y1="188.2" x2="332.85" y2="188.2" stroke="#222" stroke-width="0.9"/>
<rect x="335.90" y="191.40" width="4.30" height="14.80" fill="#ac0029" stroke="#8e0020" stroke-width="0.45"/>
<line x1="338.05000000000007" y1="187.1" x2="338.05000000000007" y2="191.2" stroke="#555" stroke-width="0.9"/>
<line x1="336.75000000000006" y1="187.1" x2="339.3500000000001" y2="187.1" stroke="#222" stroke-width="0.9"/>
<rect x="347.40" y="191.40" width="4.30" height="14.80" fill="#4c5469" stroke="#373d51" stroke-width="0.45"/>
<line x1="349.55" y1="187.6" x2="349.55" y2="191.2" stroke="#373d51" stroke-width="0.9"/>
<line x1="348.25" y1="187.6" x2="350.85" y2="187.6" stroke="#222" stroke-width="0.9"/>
<rect x="353.90" y="189.90" width="4.30" height="16.30" fill="#ac0029" stroke="#8e0020" stroke-width="0.45"/>
<line x1="356.05000000000007" y1="187.4" x2="356.05000000000007" y2="189.7" stroke="#555" stroke-width="0.9"/>
<line x1="354.75000000000006" y1="187.4" x2="357.3500000000001" y2="187.4" stroke="#222" stroke-width="0.9"/>
<rect x="365.90" y="185.60" width="4.30" height="20.60" fill="#4c5469" stroke="#373d51" stroke-width="0.45"/>
<line x1="368.05" y1="183.3" x2="368.05" y2="185.4" stroke="#373d51" stroke-width="0.9"/>
<line x1="366.75" y1="183.3" x2="369.35" y2="183.3" stroke="#222" stroke-width="0.9"/>
<rect x="372.40" y="183.50" width="4.30" height="22.70" fill="#ac0029" stroke="#8e0020" stroke-width="0.45"/>
<line x1="374.55000000000007" y1="182.2" x2="374.55000000000007" y2="183.3" stroke="#555" stroke-width="0.9"/>
<line x1="373.25000000000006" y1="182.2" x2="375.8500000000001" y2="182.2" stroke="#222" stroke-width="0.9"/>
<rect x="384.00" y="161.40" width="4.30" height="44.80" fill="#4c5469" stroke="#373d51" stroke-width="0.45"/>
<line x1="386.15" y1="155.0" x2="386.15" y2="161.2" stroke="#373d51" stroke-width="0.9"/>
<line x1="384.84999999999997" y1="155.0" x2="387.45" y2="155.0" stroke="#222" stroke-width="0.9"/>
<rect x="390.50" y="180.70" width="4.30" height="25.50" fill="#ac0029" stroke="#8e0020" stroke-width="0.45"/>
<line x1="392.65000000000003" y1="177.5" x2="392.65000000000003" y2="180.5" stroke="#555" stroke-width="0.9"/>
<line x1="391.35" y1="177.5" x2="393.95000000000005" y2="177.5" stroke="#222" stroke-width="0.9"/>
<line x1="386.5" y1="152.2" x2="393.3" y2="152.2" stroke="#444" stroke-width="1.0"/>
<text x="389.7" y="152.7" font-size="5.5" text-anchor="middle" fill="#141414" stroke="#141414" stroke-width="0.1">*</text>
<text x="365.5" y="152.3" font-size="5.4" text-anchor="middle" fill="#3a3a3a" textLength="20" lengthAdjust="spacingAndGlyphs">(<tspan font-style="italic">n</tspan>=3-11)</text>
<text x="361.9" y="136.6" font-size="9" text-anchor="middle" fill="#141414" stroke="#141414" stroke-width="0.1" font-style="italic" textLength="24" lengthAdjust="spacingAndGlyphs">E4BP4</text>
<text x="337.5" y="216.2" font-size="7.2" text-anchor="end" fill="#262626" stroke="#262626" stroke-width="0.02" textLength="19.78" lengthAdjust="spacingAndGlyphs" transform="rotate(-45 337.5 216.2)">stage1</text>
<text x="355.5" y="216.2" font-size="7.2" text-anchor="end" fill="#262626" stroke="#262626" stroke-width="0.02" textLength="19.78" lengthAdjust="spacingAndGlyphs" transform="rotate(-45 355.5 216.2)">stage2</text>
<text x="374.0" y="216.2" font-size="7.2" text-anchor="end" fill="#262626" stroke="#262626" stroke-width="0.02" textLength="19.78" lengthAdjust="spacingAndGlyphs" transform="rotate(-45 374.0 216.2)">stage3</text>
<text x="392.09999999999997" y="216.2" font-size="7.2" text-anchor="end" fill="#262626" stroke="#262626" stroke-width="0.02" textLength="14.64" lengthAdjust="spacingAndGlyphs" transform="rotate(-45 392.09999999999997 216.2)">mNK</text>
<line x1="433.5" y1="144.2" x2="433.5" y2="174.9" stroke="#222" stroke-width="1.1"/>
<line x1="433.5" y1="179.0" x2="433.5" y2="205.9" stroke="#222" stroke-width="1.1"/>
<line x1="431.7" y1="179.0" x2="435.3" y2="179.0" stroke="#222" stroke-width="0.9"/>
<line x1="432.0" y1="174.9" x2="434.3" y2="174.9" stroke="#222" stroke-width="0.9"/>
<line x1="430.3" y1="146.9" x2="433.5" y2="146.9" stroke="#222" stroke-width="1.0"/>
<text x="427.2" y="149.4" font-size="7.0" text-anchor="end" fill="#141414" stroke="#141414" stroke-width="0.1" textLength="12.4" lengthAdjust="spacingAndGlyphs">0.04</text>
<line x1="430.3" y1="156.4" x2="433.5" y2="156.4" stroke="#222" stroke-width="1.0"/>
<text x="427.2" y="158.9" font-size="7.0" text-anchor="end" fill="#141414" stroke="#141414" stroke-width="0.1" textLength="12.4" lengthAdjust="spacingAndGlyphs">0.03</text>
<line x1="430.3" y1="165.4" x2="433.5" y2="165.4" stroke="#222" stroke-width="1.0"/>
<text x="427.2" y="167.9" font-size="7.0" text-anchor="end" fill="#141414" stroke="#141414" stroke-width="0.1" textLength="12.4" lengthAdjust="spacingAndGlyphs">0.02</text>
<line x1="430.3" y1="173.6" x2="433.5" y2="173.6" stroke="#222" stroke-width="1.0"/>
<text x="427.2" y="176.1" font-size="7.0" text-anchor="end" fill="#141414" stroke="#141414" stroke-width="0.1" textLength="12.4" lengthAdjust="spacingAndGlyphs">0.01</text>
<line x1="430.3" y1="179.6" x2="433.5" y2="179.6" stroke="#222" stroke-width="1.0"/>
<text x="427.2" y="182.1" font-size="7.0" text-anchor="end" fill="#141414" stroke="#141414" stroke-width="0.1" textLength="19.48" lengthAdjust="spacingAndGlyphs">0.0020</text>
<line x1="430.3" y1="186.1" x2="433.5" y2="186.1" stroke="#222" stroke-width="1.0"/>
<text x="427.2" y="188.6" font-size="7.0" text-anchor="end" fill="#141414" stroke="#141414" stroke-width="0.1" textLength="19.48" lengthAdjust="spacingAndGlyphs">0.0015</text>
<line x1="430.3" y1="192.6" x2="433.5" y2="192.6" stroke="#222" stroke-width="1.0"/>
<text x="427.2" y="195.1" font-size="7.0" text-anchor="end" fill="#141414" stroke="#141414" stroke-width="0.1" textLength="19.48" lengthAdjust="spacingAndGlyphs">0.0010</text>
<line x1="430.3" y1="199.3" x2="433.5" y2="199.3" stroke="#222" stroke-width="1.0"/>
<text x="427.2" y="201.8" font-size="7.0" text-anchor="end" fill="#141414" stroke="#141414" stroke-width="0.1" textLength="19.48" lengthAdjust="spacingAndGlyphs">0.0005</text>
<line x1="430.3" y1="205.9" x2="433.5" y2="205.9" stroke="#222" stroke-width="1.0"/>
<text x="427.2" y="208.4" font-size="7.0" text-anchor="end" fill="#141414" stroke="#141414" stroke-width="0.1" textLength="19.48" lengthAdjust="spacingAndGlyphs">0.0000</text>
<line x1="433.5" y1="205.9" x2="507.6" y2="205.9" stroke="#222" stroke-width="1.1"/>
<line x1="442.4" y1="205.9" x2="442.4" y2="208.70000000000002" stroke="#222" stroke-width="0.9"/>
<line x1="460.4" y1="205.9" x2="460.4" y2="208.70000000000002" stroke="#222" stroke-width="0.9"/>
<line x1="478.8" y1="205.9" x2="478.8" y2="208.70000000000002" stroke="#222" stroke-width="0.9"/>
<line x1="496.9" y1="205.9" x2="496.9" y2="208.70000000000002" stroke="#222" stroke-width="0.9"/>
<rect x="437.20" y="199.40" width="4.30" height="6.50" fill="#4c5469" stroke="#373d51" stroke-width="0.45"/>
<line x1="439.34999999999997" y1="198.2" x2="439.34999999999997" y2="199.2" stroke="#373d51" stroke-width="0.9"/>
<line x1="438.04999999999995" y1="198.2" x2="440.65" y2="198.2" stroke="#222" stroke-width="0.9"/>
<rect x="443.70" y="190.40" width="4.30" height="15.50" fill="#ac0029" stroke="#8e0020" stroke-width="0.45"/>
<line x1="445.85" y1="182.3" x2="445.85" y2="190.2" stroke="#555" stroke-width="0.9"/>
<line x1="444.55" y1="182.3" x2="447.15000000000003" y2="182.3" stroke="#222" stroke-width="0.9"/>
<rect x="455.20" y="200.20" width="4.30" height="5.70" fill="#4c5469" stroke="#373d51" stroke-width="0.45"/>
<line x1="457.34999999999997" y1="197.2" x2="457.34999999999997" y2="200.0" stroke="#373d51" stroke-width="0.9"/>
<line x1="456.04999999999995" y1="197.2" x2="458.65" y2="197.2" stroke="#222" stroke-width="0.9"/>
<rect x="461.70" y="196.40" width="4.30" height="9.50" fill="#ac0029" stroke="#8e0020" stroke-width="0.45"/>
<rect x="473.60" y="200.20" width="4.30" height="5.70" fill="#4c5469" stroke="#373d51" stroke-width="0.45"/>
<line x1="475.75" y1="198.3" x2="475.75" y2="200.0" stroke="#373d51" stroke-width="0.9"/>
<line x1="474.45" y1="198.3" x2="477.05" y2="198.3" stroke="#222" stroke-width="0.9"/>
<rect x="480.10" y="202.40" width="4.30" height="3.50" fill="#ac0029" stroke="#8e0020" stroke-width="0.45"/>
<line x1="482.25000000000006" y1="200.7" x2="482.25000000000006" y2="202.2" stroke="#555" stroke-width="0.9"/>
<line x1="480.95000000000005" y1="200.7" x2="483.55000000000007" y2="200.7" stroke="#222" stroke-width="0.9"/>
<rect x="491.70" y="157.30" width="4.30" height="48.60" fill="#4c5469" stroke="#373d51" stroke-width="0.45"/>
<line x1="493.84999999999997" y1="153.9" x2="493.84999999999997" y2="157.1" stroke="#373d51" stroke-width="0.9"/>
<line x1="492.54999999999995" y1="153.9" x2="495.15" y2="153.9" stroke="#222" stroke-width="0.9"/>
<rect x="498.20" y="170.20" width="4.30" height="35.70" fill="#ac0029" stroke="#8e0020" stroke-width="0.45"/>
<line x1="500.35" y1="165.7" x2="500.35" y2="170.0" stroke="#555" stroke-width="0.9"/>
<line x1="499.05" y1="165.7" x2="501.65000000000003" y2="165.7" stroke="#222" stroke-width="0.9"/>
<rect x="434.50" y="174.90" width="74.10" height="4.10" fill="#fff"/>
<line x1="494.1" y1="151.1" x2="501.2" y2="151.1" stroke="#444" stroke-width="1.0"/>
<text x="496.9" y="151.4" font-size="5.5" text-anchor="middle" fill="#141414" stroke="#141414" stroke-width="0.1">*</text>
<text x="470.0" y="152.3" font-size="5.4" text-anchor="middle" fill="#3a3a3a" textLength="17.5" lengthAdjust="spacingAndGlyphs">(<tspan font-style="italic">n</tspan>=3-4)</text>
<text x="470.2" y="138.6" font-size="9" text-anchor="middle" fill="#141414" stroke="#141414" stroke-width="0.1" font-style="italic" textLength="29" lengthAdjust="spacingAndGlyphs">BLIMP1</text>
<text x="445.29999999999995" y="215.9" font-size="7.2" text-anchor="end" fill="#262626" stroke="#262626" stroke-width="0.02" textLength="19.78" lengthAdjust="spacingAndGlyphs" transform="rotate(-45 445.29999999999995 215.9)">stage1</text>
<text x="463.29999999999995" y="215.9" font-size="7.2" text-anchor="end" fill="#262626" stroke="#262626" stroke-width="0.02" textLength="19.78" lengthAdjust="spacingAndGlyphs" transform="rotate(-45 463.29999999999995 215.9)">stage2</text>
<text x="481.7" y="215.9" font-size="7.2" text-anchor="end" fill="#262626" stroke="#262626" stroke-width="0.02" textLength="19.78" lengthAdjust="spacingAndGlyphs" transform="rotate(-45 481.7 215.9)">stage3</text>
<text x="499.79999999999995" y="215.9" font-size="7.2" text-anchor="end" fill="#262626" stroke="#262626" stroke-width="0.02" textLength="14.64" lengthAdjust="spacingAndGlyphs" transform="rotate(-45 499.79999999999995 215.9)">mNK</text>
<rect x="460.80" y="240.50" width="6.90" height="3.30" fill="#3c4560" stroke="#373d51" stroke-width="0.5"/>
<text x="470.5" y="244.4" font-size="6.8" text-anchor="start" fill="#444444" textLength="7.4" lengthAdjust="spacingAndGlyphs">ctrl</text>
<rect x="487.20" y="240.50" width="7.40" height="3.30" fill="#ac0029" stroke="#8e0020" stroke-width="0.5"/>
<text x="497.2" y="244.4" font-size="6.8" text-anchor="start" fill="#444444" textLength="9" lengthAdjust="spacingAndGlyphs">p27</text>
<text x="190.4" y="64.7" font-size="8.2" text-anchor="middle" fill="#141414" stroke="#141414" stroke-width="0.1" textLength="58" lengthAdjust="spacingAndGlyphs" transform="rotate(-90 190.4 64.7)">Relative expression</text>
<text x="196.4" y="173.2" font-size="8.2" text-anchor="middle" fill="#141414" stroke="#141414" stroke-width="0.1" textLength="59" lengthAdjust="spacingAndGlyphs" transform="rotate(-90 196.4 173.2)">Relative expression</text>
<text x="13.6" y="310.0" font-size="8.2" text-anchor="middle" fill="#141414" stroke="#141414" stroke-width="0.1" textLength="58.5" lengthAdjust="spacingAndGlyphs" transform="rotate(-90 13.6 310.0)">Relative expression</text>
<line x1="41.5" y1="280.6" x2="41.5" y2="310.4" stroke="#222" stroke-width="1.1"/>
<line x1="41.5" y1="314.5" x2="41.5" y2="341.6" stroke="#222" stroke-width="1.1"/>
<line x1="39.7" y1="314.5" x2="43.3" y2="314.5" stroke="#222" stroke-width="0.9"/>
<line x1="40.0" y1="310.4" x2="42.3" y2="310.4" stroke="#222" stroke-width="0.9"/>
<line x1="38.3" y1="282.5" x2="41.5" y2="282.5" stroke="#222" stroke-width="1.0"/>
<text x="35.2" y="285.0" font-size="7.0" text-anchor="end" fill="#141414" stroke="#141414" stroke-width="0.1" textLength="12.4" lengthAdjust="spacingAndGlyphs">0.25</text>
<line x1="38.3" y1="289.5" x2="41.5" y2="289.5" stroke="#222" stroke-width="1.0"/>
<text x="35.2" y="292.0" font-size="7.0" text-anchor="end" fill="#141414" stroke="#141414" stroke-width="0.1" textLength="12.4" lengthAdjust="spacingAndGlyphs">0.20</text>
<line x1="38.3" y1="296.5" x2="41.5" y2="296.5" stroke="#222" stroke-width="1.0"/>
<text x="35.2" y="299.0" font-size="7.0" text-anchor="end" fill="#141414" stroke="#141414" stroke-width="0.1" textLength="12.4" lengthAdjust="spacingAndGlyphs">0.15</text>
<line x1="38.3" y1="303.4" x2="41.5" y2="303.4" stroke="#222" stroke-width="1.0"/>
<text x="35.2" y="305.9" font-size="7.0" text-anchor="end" fill="#141414" stroke="#141414" stroke-width="0.1" textLength="12.4" lengthAdjust="spacingAndGlyphs">0.10</text>
<line x1="38.3" y1="314.6" x2="41.5" y2="314.6" stroke="#222" stroke-width="1.0"/>
<text x="35.2" y="317.1" font-size="7.0" text-anchor="end" fill="#141414" stroke="#141414" stroke-width="0.1" textLength="15.94" lengthAdjust="spacingAndGlyphs">0.005</text>
<line x1="38.3" y1="320.0" x2="41.5" y2="320.0" stroke="#222" stroke-width="1.0"/>
<text x="35.2" y="322.5" font-size="7.0" text-anchor="end" fill="#141414" stroke="#141414" stroke-width="0.1" textLength="15.94" lengthAdjust="spacingAndGlyphs">0.004</text>
<line x1="38.3" y1="325.3" x2="41.5" y2="325.3" stroke="#222" stroke-width="1.0"/>
<text x="35.2" y="327.8" font-size="7.0" text-anchor="end" fill="#141414" stroke="#141414" stroke-width="0.1" textLength="15.94" lengthAdjust="spacingAndGlyphs">0.003</text>
<line x1="38.3" y1="330.7" x2="41.5" y2="330.7" stroke="#222" stroke-width="1.0"/>
<text x="35.2" y="333.2" font-size="7.0" text-anchor="end" fill="#141414" stroke="#141414" stroke-width="0.1" textLength="15.94" lengthAdjust="spacingAndGlyphs">0.002</text>
<line x1="38.3" y1="336.0" x2="41.5" y2="336.0" stroke="#222" stroke-width="1.0"/>
<text x="35.2" y="338.5" font-size="7.0" text-anchor="end" fill="#141414" stroke="#141414" stroke-width="0.1" textLength="15.94" lengthAdjust="spacingAndGlyphs">0.001</text>
<line x1="38.3" y1="341.6" x2="41.5" y2="341.6" stroke="#222" stroke-width="1.0"/>
<text x="35.2" y="344.1" font-size="7.0" text-anchor="end" fill="#141414" stroke="#141414" stroke-width="0.1" textLength="15.94" lengthAdjust="spacingAndGlyphs">0.000</text>
<line x1="41.5" y1="341.6" x2="117.2" y2="341.6" stroke="#222" stroke-width="1.1"/>
<line x1="51.4" y1="341.6" x2="51.4" y2="344.40000000000003" stroke="#222" stroke-width="0.9"/>
<line x1="70.5" y1="341.6" x2="70.5" y2="344.40000000000003" stroke="#222" stroke-width="0.9"/>
<line x1="89.2" y1="341.6" x2="89.2" y2="344.40000000000003" stroke="#222" stroke-width="0.9"/>
<line x1="108.0" y1="341.6" x2="108.0" y2="344.40000000000003" stroke="#222" stroke-width="0.9"/>
<rect x="46.20" y="341.00" width="4.30" height="0.60" fill="#4c5469" stroke="#373d51" stroke-width="0.45"/>
<rect x="52.70" y="341.40" width="4.30" height="0.20" fill="#ac0029" stroke="#8e0020" stroke-width="0.45"/>
<rect x="65.30" y="340.80" width="4.30" height="0.80" fill="#4c5469" stroke="#373d51" stroke-width="0.45"/>
<rect x="71.80" y="341.40" width="4.30" height="0.20" fill="#ac0029" stroke="#8e0020" stroke-width="0.45"/>
<rect x="84.00" y="324.60" width="4.30" height="17.00" fill="#4c5469" stroke="#373d51" stroke-width="0.45"/>
<line x1="86.15" y1="322.1" x2="86.15" y2="324.4" stroke="#373d51" stroke-width="0.9"/>
<line x1="84.85000000000001" y1="322.1" x2="87.45" y2="322.1" stroke="#222" stroke-width="0.9"/>
<rect x="90.50" y="334.80" width="4.30" height="6.80" fill="#ac0029" stroke="#8e0020" stroke-width="0.45"/>
<line x1="92.64999999999999" y1="333.3" x2="92.64999999999999" y2="334.6" stroke="#555" stroke-width="0.9"/>
<line x1="91.35" y1="333.3" x2="93.94999999999999" y2="333.3" stroke="#222" stroke-width="0.9"/>
<rect x="102.80" y="308.30" width="4.30" height="33.30" fill="#4c5469" stroke="#373d51" stroke-width="0.45"/>
<line x1="104.95" y1="306.0" x2="104.95" y2="308.1" stroke="#373d51" stroke-width="0.9"/>
<line x1="103.65" y1="306.0" x2="106.25" y2="306.0" stroke="#222" stroke-width="0.9"/>
<rect x="109.30" y="293.30" width="4.30" height="48.30" fill="#ac0029" stroke="#8e0020" stroke-width="0.45"/>
<line x1="111.44999999999999" y1="288.0" x2="111.44999999999999" y2="293.1" stroke="#555" stroke-width="0.9"/>
<line x1="110.14999999999999" y1="288.0" x2="112.74999999999999" y2="288.0" stroke="#222" stroke-width="0.9"/>
<rect x="42.50" y="310.60" width="75.70" height="4.30" fill="#fff"/>
<line x1="85.2" y1="318.7" x2="92.0" y2="318.7" stroke="#444" stroke-width="1.0"/>
<text x="88.7" y="318.5" font-size="5.5" text-anchor="middle" fill="#141414" stroke="#141414" stroke-width="0.1">*</text>
<line x1="105.0" y1="284.3" x2="112.2" y2="284.3" stroke="#444" stroke-width="1.0"/>
<text x="108.4" y="285.40000000000003" font-size="5.5" text-anchor="middle" fill="#141414" stroke="#141414" stroke-width="0.1">*</text>
<text x="79.5" y="287.5" font-size="5.4" text-anchor="middle" fill="#3a3a3a" textLength="17" lengthAdjust="spacingAndGlyphs">(<tspan font-style="italic">n</tspan>=3-7)</text>
<text x="79.7" y="274.4" font-size="9" text-anchor="middle" fill="#141414" stroke="#141414" stroke-width="0.1" font-style="italic" textLength="31" lengthAdjust="spacingAndGlyphs">AIOLOS</text>
<text x="54.3" y="351.6" font-size="7.2" text-anchor="end" fill="#262626" stroke="#262626" stroke-width="0.02" textLength="19.78" lengthAdjust="spacingAndGlyphs" transform="rotate(-45 54.3 351.6)">stage1</text>
<text x="73.4" y="351.6" font-size="7.2" text-anchor="end" fill="#262626" stroke="#262626" stroke-width="0.02" textLength="19.78" lengthAdjust="spacingAndGlyphs" transform="rotate(-45 73.4 351.6)">stage2</text>
<text x="92.10000000000001" y="351.6" font-size="7.2" text-anchor="end" fill="#262626" stroke="#262626" stroke-width="0.02" textLength="19.78" lengthAdjust="spacingAndGlyphs" transform="rotate(-45 92.10000000000001 351.6)">stage3</text>
<text x="110.9" y="351.6" font-size="7.2" text-anchor="end" fill="#262626" stroke="#262626" stroke-width="0.02" textLength="14.64" lengthAdjust="spacingAndGlyphs" transform="rotate(-45 110.9 351.6)">mNK</text>
<line x1="145.3" y1="279.6" x2="145.3" y2="341.4" stroke="#222" stroke-width="1.1"/>
<line x1="142.10000000000002" y1="282.4" x2="145.3" y2="282.4" stroke="#222" stroke-width="1.0"/>
<text x="139.0" y="284.9" font-size="7.0" text-anchor="end" fill="#141414" stroke="#141414" stroke-width="0.1" textLength="12.4" lengthAdjust="spacingAndGlyphs">0.15</text>
<line x1="142.10000000000002" y1="302.2" x2="145.3" y2="302.2" stroke="#222" stroke-width="1.0"/>
<text x="139.0" y="304.7" font-size="7.0" text-anchor="end" fill="#141414" stroke="#141414" stroke-width="0.1" textLength="12.4" lengthAdjust="spacingAndGlyphs">0.10</text>
<line x1="142.10000000000002" y1="321.9" x2="145.3" y2="321.9" stroke="#222" stroke-width="1.0"/>
<text x="139.0" y="324.4" font-size="7.0" text-anchor="end" fill="#141414" stroke="#141414" stroke-width="0.1" textLength="12.4" lengthAdjust="spacingAndGlyphs">0.05</text>
<line x1="142.10000000000002" y1="341.4" x2="145.3" y2="341.4" stroke="#222" stroke-width="1.0"/>
<text x="139.0" y="343.9" font-size="7.0" text-anchor="end" fill="#141414" stroke="#141414" stroke-width="0.1" textLength="12.4" lengthAdjust="spacingAndGlyphs">0.00</text>
<line x1="145.3" y1="341.4" x2="220.8" y2="341.4" stroke="#222" stroke-width="1.1"/>
<line x1="154.2" y1="341.4" x2="154.2" y2="344.2" stroke="#222" stroke-width="0.9"/>
<line x1="173.4" y1="341.4" x2="173.4" y2="344.2" stroke="#222" stroke-width="0.9"/>
<line x1="192.5" y1="341.4" x2="192.5" y2="344.2" stroke="#222" stroke-width="0.9"/>
<line x1="211.3" y1="341.4" x2="211.3" y2="344.2" stroke="#222" stroke-width="0.9"/>
<rect x="206.10" y="309.40" width="4.30" height="32.00" fill="#4c5469" stroke="#373d51" stroke-width="0.45"/>
<line x1="208.25000000000003" y1="306.4" x2="208.25000000000003" y2="309.2" stroke="#373d51" stroke-width="0.9"/>
<line x1="206.95000000000002" y1="306.4" x2="209.55000000000004" y2="306.4" stroke="#222" stroke-width="0.9"/>
<rect x="212.60" y="303.00" width="4.30" height="38.40" fill="#ac0029" stroke="#8e0020" stroke-width="0.45"/>
<line x1="214.75" y1="297.9" x2="214.75" y2="302.8" stroke="#555" stroke-width="0.9"/>
<line x1="213.45" y1="297.9" x2="216.05" y2="297.9" stroke="#222" stroke-width="0.9"/>
<text x="183.2" y="287.5" font-size="5.4" text-anchor="middle" fill="#3a3a3a" textLength="17" lengthAdjust="spacingAndGlyphs">(<tspan font-style="italic">n</tspan>=2-3)</text>
<text x="183.6" y="274.6" font-size="9" text-anchor="middle" fill="#141414" stroke="#141414" stroke-width="0.1" font-style="italic" textLength="30" lengthAdjust="spacingAndGlyphs">EOMES</text>
<text x="157.1" y="351.4" font-size="7.2" text-anchor="end" fill="#262626" stroke="#262626" stroke-width="0.02" textLength="19.78" lengthAdjust="spacingAndGlyphs" transform="rotate(-45 157.1 351.4)">stage1</text>
<text x="176.3" y="351.4" font-size="7.2" text-anchor="end" fill="#262626" stroke="#262626" stroke-width="0.02" textLength="19.78" lengthAdjust="spacingAndGlyphs" transform="rotate(-45 176.3 351.4)">stage2</text>
<text x="195.4" y="351.4" font-size="7.2" text-anchor="end" fill="#262626" stroke="#262626" stroke-width="0.02" textLength="19.78" lengthAdjust="spacingAndGlyphs" transform="rotate(-45 195.4 351.4)">stage3</text>
<text x="214.20000000000002" y="351.4" font-size="7.2" text-anchor="end" fill="#262626" stroke="#262626" stroke-width="0.02" textLength="14.64" lengthAdjust="spacingAndGlyphs" transform="rotate(-45 214.20000000000002 351.4)">mNK</text>
<rect x="202.10" y="280.90" width="6.60" height="3.00" fill="#3c4560" stroke="#373d51" stroke-width="0.6"/>
<text x="211.8" y="284.6" font-size="6.6" text-anchor="start" fill="#444444" textLength="6.8" lengthAdjust="spacingAndGlyphs">ctrl</text>
<rect x="202.10" y="288.40" width="6.60" height="3.40" fill="#ac0029" stroke="#8e0020" stroke-width="0.6"/>
<text x="212.2" y="292.1" font-size="6.6" text-anchor="start" fill="#444444" textLength="8.6" lengthAdjust="spacingAndGlyphs">p27</text>
<rect x="268.0" y="281.2" width="50.80000000000001" height="50.400000000000034" fill="none" stroke="#333" stroke-width="0.9"/>
<line x1="265.2" y1="283.7" x2="268.0" y2="283.7" stroke="#333" stroke-width="0.8"/>
<text x="262.8" y="286.3" font-size="7.4" text-anchor="end" fill="#141414" stroke="#141414" stroke-width="0.1" textLength="10.2" lengthAdjust="spacingAndGlyphs">100</text>
<line x1="265.2" y1="293.28" x2="268.0" y2="293.28" stroke="#333" stroke-width="0.8"/>
<text x="262.8" y="295.88" font-size="7.4" text-anchor="end" fill="#141414" stroke="#141414" stroke-width="0.1" textLength="7.0" lengthAdjust="spacingAndGlyphs">80</text>
<line x1="265.2" y1="302.86" x2="268.0" y2="302.86" stroke="#333" stroke-width="0.8"/>
<text x="262.8" y="305.46000000000004" font-size="7.4" text-anchor="end" fill="#141414" stroke="#141414" stroke-width="0.1" textLength="7.0" lengthAdjust="spacingAndGlyphs">60</text>
<line x1="265.2" y1="312.44" x2="268.0" y2="312.44" stroke="#333" stroke-width="0.8"/>
<text x="262.8" y="315.04" font-size="7.4" text-anchor="end" fill="#141414" stroke="#141414" stroke-width="0.1" textLength="7.0" lengthAdjust="spacingAndGlyphs">40</text>
<line x1="265.2" y1="322.02000000000004" x2="268.0" y2="322.02000000000004" stroke="#333" stroke-width="0.8"/>
<text x="262.8" y="324.62000000000006" font-size="7.4" text-anchor="end" fill="#141414" stroke="#141414" stroke-width="0.1" textLength="7.0" lengthAdjust="spacingAndGlyphs">20</text>
<line x1="265.2" y1="331.6" x2="268.0" y2="331.6" stroke="#333" stroke-width="0.8"/>
<text x="262.8" y="334.20000000000005" font-size="7.4" text-anchor="end" fill="#141414" stroke="#141414" stroke-width="0.1" textLength="3.6" lengthAdjust="spacingAndGlyphs">0</text>
<line x1="271" y1="331.6" x2="271" y2="333.20000000000005" stroke="#555" stroke-width="0.6"/>
<line x1="274" y1="331.6" x2="274" y2="333.20000000000005" stroke="#555" stroke-width="0.6"/>
<line x1="276" y1="331.6" x2="276" y2="333.20000000000005" stroke="#555" stroke-width="0.6"/>
<line x1="277.5" y1="331.6" x2="277.5" y2="333.20000000000005" stroke="#555" stroke-width="0.6"/>
<line x1="279.5" y1="331.6" x2="279.5" y2="333.20000000000005" stroke="#555" stroke-width="0.6"/>
<line x1="282" y1="331.6" x2="282" y2="333.20000000000005" stroke="#555" stroke-width="0.6"/>
<line x1="284" y1="331.6" x2="284" y2="333.20000000000005" stroke="#555" stroke-width="0.6"/>
<line x1="285.5" y1="331.6" x2="285.5" y2="333.20000000000005" stroke="#555" stroke-width="0.6"/>
<line x1="287" y1="331.6" x2="287" y2="333.20000000000005" stroke="#555" stroke-width="0.6"/>
<line x1="288" y1="331.6" x2="288" y2="333.20000000000005" stroke="#555" stroke-width="0.6"/>
<line x1="292" y1="331.6" x2="292" y2="333.20000000000005" stroke="#555" stroke-width="0.6"/>
<line x1="294.5" y1="331.6" x2="294.5" y2="333.20000000000005" stroke="#555" stroke-width="0.6"/>
<line x1="296" y1="331.6" x2="296" y2="333.20000000000005" stroke="#555" stroke-width="0.6"/>
<line x1="297" y1="331.6" x2="297" y2="333.20000000000005" stroke="#555" stroke-width="0.6"/>
<line x1="298.5" y1="331.6" x2="298.5" y2="333.20000000000005" stroke="#555" stroke-width="0.6"/>
<line x1="302" y1="331.6" x2="302" y2="333.20000000000005" stroke="#555" stroke-width="0.6"/>
<line x1="304" y1="331.6" x2="304" y2="333.20000000000005" stroke="#555" stroke-width="0.6"/>
<line x1="305.5" y1="331.6" x2="305.5" y2="333.20000000000005" stroke="#555" stroke-width="0.6"/>
<line x1="306.5" y1="331.6" x2="306.5" y2="333.20000000000005" stroke="#555" stroke-width="0.6"/>
<line x1="307.5" y1="331.6" x2="307.5" y2="333.20000000000005" stroke="#555" stroke-width="0.6"/>
<line x1="312" y1="331.6" x2="312" y2="333.20000000000005" stroke="#555" stroke-width="0.6"/>
<line x1="314.5" y1="331.6" x2="314.5" y2="333.20000000000005" stroke="#555" stroke-width="0.6"/>
<line x1="316" y1="331.6" x2="316" y2="333.20000000000005" stroke="#555" stroke-width="0.6"/>
<line x1="317" y1="331.6" x2="317" y2="333.20000000000005" stroke="#555" stroke-width="0.6"/>
<text x="266.0" y="343.4" font-size="6.6" fill="#2a2a2a">-10<tspan font-size="4.6" dy="-2.6">3</tspan></text>
<text x="279.0" y="343.4" font-size="6.6" fill="#222">0</text>
<text x="283.3" y="343.4" font-size="6.6" fill="#2a2a2a">10<tspan font-size="4.6" dy="-2.6">3</tspan></text>
<text x="298.0" y="343.4" font-size="6.6" fill="#2a2a2a">10<tspan font-size="4.6" dy="-2.6">4</tspan></text>
<text x="309.2" y="343.4" font-size="6.6" fill="#2a2a2a">10<tspan font-size="4.6" dy="-2.6">5</tspan></text>
<polyline points="279.1,331.6 281.4,324.6 283.0,316.1 283.8,315.3 285.3,317.6 286.9,318.1 288.1,316.9 289.2,314.1 290.7,314.5 292.3,310.6 294.6,301.3 296.5,293.5 298.1,288.9 299.0,288.6 300.1,291.2 301.6,299.8 303.2,313.7 304.7,324.6 306.3,331.6" fill="none" stroke="#4d5874" stroke-width="1.0" stroke-linejoin="round"/>
<polyline points="278.8,331.6 280.3,327.7 281.4,309.1 282.2,288.9 283.0,286.5 284.1,288.1 285.0,298.2 286.9,305.2 289.2,312.2 291.5,315.3 294.6,318.4 297.4,320.7 300.1,323.8 302.7,327.0 305.5,331.6" fill="none" stroke="#b00030" stroke-width="1.0" stroke-linejoin="round"/>
<line x1="248.7" y1="348.4" x2="248.7" y2="285.6" stroke="#111" stroke-width="1.0"/>
<polygon points="246.29999999999998,286.1 251.1,286.1 248.7,281.6" fill="#111"/>
<line x1="248.7" y1="348.4" x2="314.7" y2="348.4" stroke="#111" stroke-width="1.0"/>
<polygon points="314.2,346.0 314.2,350.79999999999995 318.7,348.4" fill="#111"/>
<text x="243.3" y="306.7" font-size="8.6" text-anchor="middle" fill="#303030" textLength="20.3" lengthAdjust="spacingAndGlyphs" transform="rotate(-90 243.3 306.7)">Counts</text>
<text x="318.8" y="358.6" font-size="9.0" text-anchor="end" fill="#303030" textLength="13.300000000000011" lengthAdjust="spacingAndGlyphs">TBET</text>
<rect x="360.1" y="281.4" width="50.89999999999998" height="50.200000000000045" fill="none" stroke="#333" stroke-width="0.9"/>
<line x1="357.3" y1="283.9" x2="360.1" y2="283.9" stroke="#333" stroke-width="0.8"/>
<text x="354.9" y="286.5" font-size="7.4" text-anchor="end" fill="#141414" stroke="#141414" stroke-width="0.1" textLength="10.2" lengthAdjust="spacingAndGlyphs">100</text>
<line x1="357.3" y1="293.44" x2="360.1" y2="293.44" stroke="#333" stroke-width="0.8"/>
<text x="354.9" y="296.04" font-size="7.4" text-anchor="end" fill="#141414" stroke="#141414" stroke-width="0.1" textLength="7.0" lengthAdjust="spacingAndGlyphs">80</text>
<line x1="357.3" y1="302.98" x2="360.1" y2="302.98" stroke="#333" stroke-width="0.8"/>
<text x="354.9" y="305.58000000000004" font-size="7.4" text-anchor="end" fill="#141414" stroke="#141414" stroke-width="0.1" textLength="7.0" lengthAdjust="spacingAndGlyphs">60</text>
<line x1="357.3" y1="312.52" x2="360.1" y2="312.52" stroke="#333" stroke-width="0.8"/>
<text x="354.9" y="315.12" font-size="7.4" text-anchor="end" fill="#141414" stroke="#141414" stroke-width="0.1" textLength="7.0" lengthAdjust="spacingAndGlyphs">40</text>
<line x1="357.3" y1="322.06" x2="360.1" y2="322.06" stroke="#333" stroke-width="0.8"/>
<text x="354.9" y="324.66" font-size="7.4" text-anchor="end" fill="#141414" stroke="#141414" stroke-width="0.1" textLength="7.0" lengthAdjust="spacingAndGlyphs">20</text>
<line x1="357.3" y1="331.6" x2="360.1" y2="331.6" stroke="#333" stroke-width="0.8"/>
<text x="354.9" y="334.20000000000005" font-size="7.4" text-anchor="end" fill="#141414" stroke="#141414" stroke-width="0.1" textLength="3.6" lengthAdjust="spacingAndGlyphs">0</text>
<line x1="362" y1="331.6" x2="362" y2="333.20000000000005" stroke="#555" stroke-width="0.6"/>
<line x1="364" y1="331.6" x2="364" y2="333.20000000000005" stroke="#555" stroke-width="0.6"/>
<line x1="367" y1="331.6" x2="367" y2="333.20000000000005" stroke="#555" stroke-width="0.6"/>
<line x1="369" y1="331.6" x2="369" y2="333.20000000000005" stroke="#555" stroke-width="0.6"/>
<line x1="371.5" y1="331.6" x2="371.5" y2="333.20000000000005" stroke="#555" stroke-width="0.6"/>
<line x1="374" y1="331.6" x2="374" y2="333.20000000000005" stroke="#555" stroke-width="0.6"/>
<line x1="376" y1="331.6" x2="376" y2="333.20000000000005" stroke="#555" stroke-width="0.6"/>
<line x1="377.5" y1="331.6" x2="377.5" y2="333.20000000000005" stroke="#555" stroke-width="0.6"/>
<line x1="378.5" y1="331.6" x2="378.5" y2="333.20000000000005" stroke="#555" stroke-width="0.6"/>
<line x1="383" y1="331.6" x2="383" y2="333.20000000000005" stroke="#555" stroke-width="0.6"/>
<line x1="386" y1="331.6" x2="386" y2="333.20000000000005" stroke="#555" stroke-width="0.6"/>
<line x1="387.5" y1="331.6" x2="387.5" y2="333.20000000000005" stroke="#555" stroke-width="0.6"/>
<line x1="388.5" y1="331.6" x2="388.5" y2="333.20000000000005" stroke="#555" stroke-width="0.6"/>
<line x1="389.5" y1="331.6" x2="389.5" y2="333.20000000000005" stroke="#555" stroke-width="0.6"/>
<line x1="394" y1="331.6" x2="394" y2="333.20000000000005" stroke="#555" stroke-width="0.6"/>
<line x1="397" y1="331.6" x2="397" y2="333.20000000000005" stroke="#555" stroke-width="0.6"/>
<line x1="398.5" y1="331.6" x2="398.5" y2="333.20000000000005" stroke="#555" stroke-width="0.6"/>
<line x1="399.5" y1="331.6" x2="399.5" y2="333.20000000000005" stroke="#555" stroke-width="0.6"/>
<line x1="400.5" y1="331.6" x2="400.5" y2="333.20000000000005" stroke="#555" stroke-width="0.6"/>
<line x1="405" y1="331.6" x2="405" y2="333.20000000000005" stroke="#555" stroke-width="0.6"/>
<line x1="408" y1="331.6" x2="408" y2="333.20000000000005" stroke="#555" stroke-width="0.6"/>
<line x1="409.5" y1="331.6" x2="409.5" y2="333.20000000000005" stroke="#555" stroke-width="0.6"/>
<text x="363.8" y="343.0" font-size="6.6" fill="#222">0</text>
<text x="378.3" y="343.0" font-size="6.6" fill="#2a2a2a">10<tspan font-size="4.6" dy="-2.6">3</tspan></text>
<text x="390.3" y="343.0" font-size="6.6" fill="#2a2a2a">10<tspan font-size="4.6" dy="-2.6">4</tspan></text>
<text x="401.9" y="343.0" font-size="6.6" fill="#2a2a2a">10<tspan font-size="4.6" dy="-2.6">5</tspan></text>
<polyline points="361.3,331.6 367.5,330.1 372.2,328.5 375.3,325.4 377.6,323.8 380.0,320.0 381.5,315.3 383.1,307.5 384.6,296.6 385.7,287.3 386.5,290.4 387.4,306.0 388.5,323.1 389.6,330.8 390.5,331.6" fill="none" stroke="#4d5874" stroke-width="1.0" stroke-linejoin="round"/>
<polyline points="364.4,331.6 372.2,330.8 376.9,329.0 380.7,326.2 383.1,323.1 384.9,318.4 386.5,309.1 387.4,296.6 388.5,286.5 389.3,292.0 390.1,307.5 391.2,321.5 392.4,329.3 393.6,331.6" fill="none" stroke="#b00030" stroke-width="1.0" stroke-linejoin="round"/>
<line x1="339.9" y1="348.4" x2="339.9" y2="285.9" stroke="#111" stroke-width="1.0"/>
<polygon points="337.5,286.4 342.29999999999995,286.4 339.9,281.9" fill="#111"/>
<line x1="339.9" y1="348.4" x2="407.1" y2="348.4" stroke="#111" stroke-width="1.0"/>
<polygon points="406.6,346.0 406.6,350.79999999999995 411.1,348.4" fill="#111"/>
<text x="335.6" y="306.7" font-size="8.6" text-anchor="middle" fill="#303030" textLength="20.3" lengthAdjust="spacingAndGlyphs" transform="rotate(-90 335.6 306.7)">Counts</text>
<text x="411.1" y="358.6" font-size="9.0" text-anchor="end" fill="#303030" textLength="21.100000000000023" lengthAdjust="spacingAndGlyphs">EOMES</text>
<rect x="268.60" y="273.70" width="7.10" height="2.80" fill="#3c4560" stroke="#373d51" stroke-width="0.6"/>
<text x="278.2" y="277.2" font-size="6.6" text-anchor="start" fill="#4a4a4a" textLength="7.6" lengthAdjust="spacingAndGlyphs">ctrl</text>
<rect x="295.20" y="273.70" width="7.00" height="2.80" fill="#ac0029" stroke="#8e0020" stroke-width="0.6"/>
<text x="304.3" y="277.2" font-size="6.6" text-anchor="start" fill="#4a4a4a" textLength="10.3" lengthAdjust="spacingAndGlyphs">p27</text>
<line x1="453.7" y1="283.2" x2="453.7" y2="345.0" stroke="#222" stroke-width="1.1"/>
<line x1="450.5" y1="286.0" x2="453.7" y2="286.0" stroke="#222" stroke-width="1.0"/>
<text x="447.4" y="288.5" font-size="7.0" text-anchor="end" fill="#141414" stroke="#141414" stroke-width="0.1" textLength="14.6" lengthAdjust="spacingAndGlyphs">4000</text>
<line x1="450.5" y1="300.8" x2="453.7" y2="300.8" stroke="#222" stroke-width="1.0"/>
<text x="447.4" y="303.3" font-size="7.0" text-anchor="end" fill="#141414" stroke="#141414" stroke-width="0.1" textLength="14.6" lengthAdjust="spacingAndGlyphs">3000</text>
<line x1="450.5" y1="315.6" x2="453.7" y2="315.6" stroke="#222" stroke-width="1.0"/>
<text x="447.4" y="318.1" font-size="7.0" text-anchor="end" fill="#141414" stroke="#141414" stroke-width="0.1" textLength="14.6" lengthAdjust="spacingAndGlyphs">2000</text>
<line x1="450.5" y1="330.6" x2="453.7" y2="330.6" stroke="#222" stroke-width="1.0"/>
<text x="447.4" y="333.1" font-size="7.0" text-anchor="end" fill="#141414" stroke="#141414" stroke-width="0.1" textLength="14.6" lengthAdjust="spacingAndGlyphs">1000</text>
<line x1="450.5" y1="345.0" x2="453.7" y2="345.0" stroke="#222" stroke-width="1.0"/>
<text x="447.4" y="347.5" font-size="7.0" text-anchor="end" fill="#141414" stroke="#141414" stroke-width="0.1" textLength="3.54" lengthAdjust="spacingAndGlyphs">0</text>
<line x1="453.7" y1="345.0" x2="512.9" y2="345.0" stroke="#222" stroke-width="1.1"/>
<line x1="466.8" y1="345.0" x2="466.8" y2="347.8" stroke="#222" stroke-width="0.9"/>
<line x1="498.9" y1="345.0" x2="498.9" y2="347.8" stroke="#222" stroke-width="0.9"/>
<rect x="458.20" y="300.40" width="7.20" height="44.60" fill="#4c5469"/>
<line x1="461.8" y1="293.3" x2="461.8" y2="300.4" stroke="#3a4156" stroke-width="0.9"/>
<line x1="460.3" y1="293.3" x2="463.3" y2="293.3" stroke="#222" stroke-width="0.9"/>
<rect x="469.80" y="328.10" width="7.20" height="16.90" fill="#ac0029"/>
<line x1="473.4" y1="325.4" x2="473.4" y2="328.1" stroke="#555" stroke-width="0.9"/>
<line x1="471.9" y1="325.4" x2="474.9" y2="325.4" stroke="#222" stroke-width="0.9"/>
<rect x="489.40" y="328.60" width="7.20" height="16.40" fill="#4c5469"/>
<line x1="493.0" y1="327.1" x2="493.0" y2="328.6" stroke="#3a4156" stroke-width="0.9"/>
<line x1="491.5" y1="327.1" x2="494.5" y2="327.1" stroke="#222" stroke-width="0.9"/>
<rect x="501.20" y="316.40" width="7.20" height="28.60" fill="#ac0029"/>
<line x1="504.8" y1="313.6" x2="504.8" y2="316.4" stroke="#555" stroke-width="0.9"/>
<line x1="503.3" y1="313.6" x2="506.3" y2="313.6" stroke="#222" stroke-width="0.9"/>
<line x1="461.9" y1="286.8" x2="473.2" y2="286.8" stroke="#444" stroke-width="1.0"/>
<text x="467.5" y="286.6" font-size="5.5" text-anchor="middle" fill="#141414" stroke="#141414" stroke-width="0.1">***</text>
<line x1="493.1" y1="308.2" x2="504.7" y2="308.2" stroke="#444" stroke-width="1.0"/>
<text x="498.9" y="308.0" font-size="5.5" text-anchor="middle" fill="#141414" stroke="#141414" stroke-width="0.1">***</text>
<text x="427.6" y="315.2" font-size="7.8" text-anchor="middle" fill="#141414" stroke="#141414" stroke-width="0.1" textLength="10.4" lengthAdjust="spacingAndGlyphs" transform="rotate(-90 427.6 315.2)">MFI</text>
<text x="467.4" y="357.1" font-size="6.6" text-anchor="middle" fill="#141414" stroke="#141414" stroke-width="0.1" textLength="14.4" lengthAdjust="spacingAndGlyphs">TBET</text>
<text x="498.5" y="357.1" font-size="6.6" text-anchor="middle" fill="#141414" stroke="#141414" stroke-width="0.1" textLength="21.3" lengthAdjust="spacingAndGlyphs">EOMES</text>
<rect x="0" y="0" width="520" height="1" fill="#000"/><rect x="0" y="0" width="1" height="373" fill="#000"/><rect x="518.6" y="0" width="1.4" height="373" fill="#000"/><rect x="0" y="371.5" width="520" height="1.5" fill="#000"/>
</svg>
</body></html>
